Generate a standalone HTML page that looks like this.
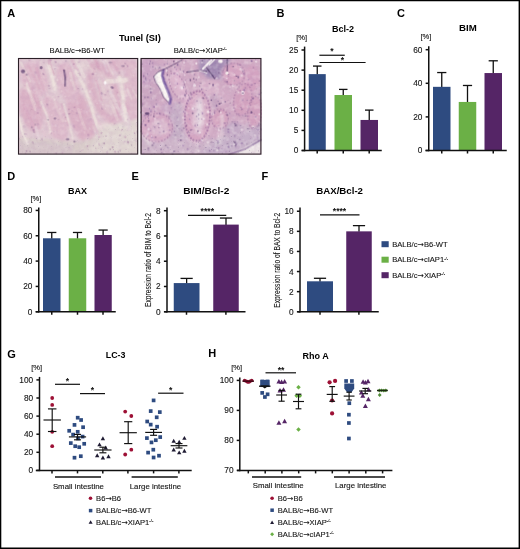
<!DOCTYPE html>
<html><head><meta charset="utf-8"><title>Figure</title>
<style>
html,body{margin:0;padding:0;background:#fff}
body{width:520px;height:549px;overflow:hidden;position:relative}
svg{display:block;position:absolute;left:0;top:0}
svg text{font-family:"Liberation Sans",sans-serif}
.ar{font-family:"DejaVu Sans","Liberation Sans",sans-serif;font-size:7.6px}
.sup{font-size:4.2px}
</style></head><body>
<svg width="520" height="549" viewBox="0 0 520 549">
<rect x="0" y="0" width="520" height="549" fill="#fff"/>
<text x="7.20" y="16.90" font-size="11" text-anchor="start" font-weight="bold" fill="#000" >A</text>
<text x="276.60" y="16.90" font-size="11" text-anchor="start" font-weight="bold" fill="#000" >B</text>
<text x="397.00" y="16.90" font-size="11" text-anchor="start" font-weight="bold" fill="#000" >C</text>
<text x="7.20" y="179.60" font-size="11" text-anchor="start" font-weight="bold" fill="#000" >D</text>
<text x="131.60" y="179.60" font-size="11" text-anchor="start" font-weight="bold" fill="#000" >E</text>
<text x="261.60" y="179.60" font-size="11" text-anchor="start" font-weight="bold" fill="#000" >F</text>
<text x="7.20" y="357.60" font-size="11" text-anchor="start" font-weight="bold" fill="#000" >G</text>
<text x="208.30" y="357.40" font-size="11" text-anchor="start" font-weight="bold" fill="#000" >H</text>
<text x="119.00" y="40.60" font-size="9.3" font-weight="bold" fill="#000" textLength="41.80" lengthAdjust="spacingAndGlyphs">Tunel (SI)</text>
<text x="49.60" y="53.00" font-size="7.6" text-anchor="start" font-weight="normal" fill="#151515"  stroke="#151515" stroke-width="0.12">BALB/c<tspan class="ar">→</tspan>B6-WT</text>
<text x="173.70" y="53.00" font-size="7.6" text-anchor="start" font-weight="normal" fill="#151515"  stroke="#151515" stroke-width="0.12">BALB/c<tspan class="ar">→</tspan>XIAP<tspan class="sup" dy="-2.6">-/-</tspan></text>
<defs>
<filter id="b6" x="-10%" y="-10%" width="120%" height="120%"><feGaussianBlur stdDeviation="7"/></filter>
<filter id="b3" x="-10%" y="-10%" width="120%" height="120%"><feGaussianBlur stdDeviation="3"/></filter>
<filter id="nzd" x="0" y="0" width="100%" height="100%"><feTurbulence type="fractalNoise" baseFrequency="0.22" numOctaves="2" seed="7" result="t"/><feColorMatrix in="t" type="matrix" values="0 0 0 0 0.5  0 0 0 0 0.3  0 0 0 0 0.5  0 2.2 0 0 -0.95"/></filter>
<filter id="nzl" x="0" y="0" width="100%" height="100%"><feTurbulence type="fractalNoise" baseFrequency="0.2" numOctaves="2" seed="23" result="t"/><feColorMatrix in="t" type="matrix" values="0 0 0 0 1  0 0 0 0 0.97  0 0 0 0 0.95  2.4 0 0 0 -1.05"/></filter>
<filter id="nzs" x="0" y="0" width="100%" height="100%"><feTurbulence type="fractalNoise" baseFrequency="0.55" numOctaves="1" seed="3" result="t"/><feColorMatrix in="t" type="matrix" values="0 0 0 0 0.3  0 0 0 0 0.2  0 0 0 0 0.36  0 0 7 0 -4.7"/></filter>
<filter id="sl" x="0" y="0" width="100%" height="100%"><feTurbulence type="fractalNoise" baseFrequency="0.2 0.035" numOctaves="2" seed="11" result="t"/><feColorMatrix in="t" type="matrix" values="0 0 0 0 0.98  0 0 0 0 0.95  0 0 0 0 0.92  2.6 0 0 0 -1.2"/></filter>
<filter id="sd" x="0" y="0" width="100%" height="100%"><feTurbulence type="fractalNoise" baseFrequency="0.22 0.04" numOctaves="2" seed="5" result="t"/><feColorMatrix in="t" type="matrix" values="0 0 0 0 0.82  0 0 0 0 0.5  0 0 0 0 0.7  0 2.6 0 0 -1.15"/></filter>
<clipPath id="c1"><rect x="18" y="58" width="120" height="96.3"/></clipPath>
<clipPath id="c2"><rect x="140.6" y="58" width="120.7" height="96.3"/></clipPath>
<clipPath id="cb1"><polygon points="18,134 50,138 80,140 100,132 138,120 138,155 18,155"/></clipPath>
<clipPath id="cb2"><polygon points="140,150 180,140 215,138 261,120 261,155 140,155"/></clipPath>
</defs>
<g clip-path="url(#c1)">
<rect x="18" y="58" width="120" height="96.3" fill="#e2c8d3"/>
<g transform="translate(18 58) scale(0.23077)">
<g filter="url(#b6)">
<ellipse cx="375" cy="150" rx="63" ry="142" transform="rotate(-19 375 150)" fill="#dbacc3" opacity="1"/>
<ellipse cx="378" cy="150" rx="36" ry="105" transform="rotate(-19 378 150)" fill="#e2c6d1" opacity="0.85"/>
<ellipse cx="500" cy="170" rx="40" ry="140" transform="rotate(-8 500 170)" fill="#dfb6ca" opacity="1"/>
<ellipse cx="270" cy="250" rx="49" ry="130" transform="rotate(-18 270 250)" fill="#dbacc3" opacity="1"/>
<ellipse cx="160" cy="265" rx="45" ry="105" transform="rotate(-20 160 265)" fill="#dfb6ca" opacity="1"/>
<ellipse cx="55" cy="220" rx="47" ry="102" transform="rotate(-14 55 220)" fill="#dbacc3" opacity="1"/>
<ellipse cx="70" cy="90" rx="56" ry="80" transform="rotate(-20 70 90)" fill="#dfb6ca" opacity="1"/>
<ellipse cx="215" cy="105" rx="45" ry="90" transform="rotate(-14 215 105)" fill="#dfb6ca" opacity="1"/>
<ellipse cx="450" cy="30" rx="70" ry="28" transform="rotate(0 450 30)" fill="#dfb6ca" opacity="1"/>
<polygon points="0,345 120,350 250,365 330,345 360,300 440,290 520,265 520,416 0,416" fill="#dacdca" opacity="1"/>
<polygon points="340,330 380,290 450,285 520,262 520,416 300,416" fill="#e3d9d4" opacity="1"/>
<polygon points="0,360 120,365 240,380 240,416 0,416" fill="#d6c5c9" opacity="1"/>
<polyline points="135,35 148,80 160,135" fill="none" stroke="#efe4de" stroke-width="15" stroke-linecap="round" stroke-linejoin="round" opacity="0.9"/>
<polyline points="250,55 285,120 318,210 345,300" fill="none" stroke="#efe4de" stroke-width="13" stroke-linecap="round" stroke-linejoin="round" opacity="0.75"/>
<polyline points="440,85 455,170 468,270" fill="none" stroke="#efe4de" stroke-width="16" stroke-linecap="round" stroke-linejoin="round" opacity="0.75"/>
<polyline points="380,100 470,95" fill="none" stroke="#efe4de" stroke-width="24" stroke-linecap="round" stroke-linejoin="round" opacity="0.6"/>
<polyline points="5,255 18,320 42,372" fill="none" stroke="#efe4de" stroke-width="9" stroke-linecap="round" stroke-linejoin="round" opacity="1"/>
<polyline points="275,25 330,55" fill="none" stroke="#efe4de" stroke-width="20" stroke-linecap="round" stroke-linejoin="round" opacity="0.5"/>
<polyline points="100,190 125,250 140,320" fill="none" stroke="#efe4de" stroke-width="10" stroke-linecap="round" stroke-linejoin="round" opacity="0.6"/>
<polyline points="200,200 225,300 238,350" fill="none" stroke="#efe4de" stroke-width="9" stroke-linecap="round" stroke-linejoin="round" opacity="0.55"/>
<polyline points="20,120 60,150" fill="none" stroke="#efe4de" stroke-width="12" stroke-linecap="round" stroke-linejoin="round" opacity="0.5"/>
<polyline points="335,300 400,290" fill="none" stroke="#efe4de" stroke-width="20" stroke-linecap="round" stroke-linejoin="round" opacity="0.7"/>
</g>
<rect x="0" y="0" width="520" height="416" fill="#d6c8cc" opacity="0.22"/>
<g filter="url(#b3)">
<polyline points="92.2,16.1 100.9,50.5 112.1,85.0" fill="none" stroke="#ecdfdf" stroke-width="7.2" stroke-linecap="round" stroke-linejoin="round" opacity="0.36"/>
<polyline points="514.4,0.6 530.4,39.2 541.0,77.8" fill="none" stroke="#e9d8df" stroke-width="13.6" stroke-linecap="round" stroke-linejoin="round" opacity="0.29"/>
<polyline points="-25.6,204.2 -15.0,233.2 -7.0,262.1" fill="none" stroke="#e9d8df" stroke-width="9.5" stroke-linecap="round" stroke-linejoin="round" opacity="0.38"/>
<polyline points="438.6,288.0 447.4,309.7 456.6,331.4" fill="none" stroke="#eee4de" stroke-width="11.0" stroke-linecap="round" stroke-linejoin="round" opacity="0.27"/>
<polyline points="434.9,157.9 447.4,191.7 462.7,225.5" fill="none" stroke="#eee4de" stroke-width="10.6" stroke-linecap="round" stroke-linejoin="round" opacity="0.28"/>
<polyline points="406.5,8.4 425.6,42.4 442.7,76.4" fill="none" stroke="#cf98b4" stroke-width="12.6" stroke-linecap="round" stroke-linejoin="round" opacity="0.26"/>
<polyline points="62.9,132.6 77.2,172.7 96.7,212.8" fill="none" stroke="#d49cb8" stroke-width="14.2" stroke-linecap="round" stroke-linejoin="round" opacity="0.25"/>
<polyline points="88.2,247.8 98.6,290.4 114.7,333.0" fill="none" stroke="#e4c4d2" stroke-width="14.5" stroke-linecap="round" stroke-linejoin="round" opacity="0.3"/>
<polyline points="160.0,8.9 180.9,64.6 196.2,120.3" fill="none" stroke="#e4c4d2" stroke-width="7.1" stroke-linecap="round" stroke-linejoin="round" opacity="0.3"/>
<polyline points="394.1,123.6 416.1,176.9 438.7,230.2" fill="none" stroke="#ecdfdf" stroke-width="9.3" stroke-linecap="round" stroke-linejoin="round" opacity="0.27"/>
<polyline points="36.4,113.6 54.3,169.0 73.8,224.4" fill="none" stroke="#efe6e0" stroke-width="9.9" stroke-linecap="round" stroke-linejoin="round" opacity="0.34"/>
<polyline points="76.1,300.8 83.0,324.5 88.7,348.2" fill="none" stroke="#e9d8df" stroke-width="11.8" stroke-linecap="round" stroke-linejoin="round" opacity="0.47"/>
<polyline points="265.9,183.9 277.0,215.7 282.3,247.6" fill="none" stroke="#d8a6c0" stroke-width="13.2" stroke-linecap="round" stroke-linejoin="round" opacity="0.33"/>
<polyline points="227.5,64.7 236.2,99.9 245.8,135.2" fill="none" stroke="#eee4de" stroke-width="10.5" stroke-linecap="round" stroke-linejoin="round" opacity="0.39"/>
<polyline points="80.8,45.7 85.8,66.2 93.8,86.6" fill="none" stroke="#d49cb8" stroke-width="13.2" stroke-linecap="round" stroke-linejoin="round" opacity="0.33"/>
<polyline points="361.7,-5.8 375.7,27.5 386.0,60.9" fill="none" stroke="#e9d8df" stroke-width="9.7" stroke-linecap="round" stroke-linejoin="round" opacity="0.39"/>
<polyline points="319.8,265.2 336.0,303.0 352.2,340.8" fill="none" stroke="#d8a6c0" stroke-width="9.7" stroke-linecap="round" stroke-linejoin="round" opacity="0.32"/>
<polyline points="440.8,78.0 456.6,121.2 466.7,164.5" fill="none" stroke="#eee4de" stroke-width="14.2" stroke-linecap="round" stroke-linejoin="round" opacity="0.25"/>
<polyline points="333.6,1.2 342.3,25.8 354.4,50.3" fill="none" stroke="#cf98b4" stroke-width="13.0" stroke-linecap="round" stroke-linejoin="round" opacity="0.46"/>
<polyline points="-38.2,302.8 -29.8,321.2 -20.0,339.6" fill="none" stroke="#ecdfdf" stroke-width="10.2" stroke-linecap="round" stroke-linejoin="round" opacity="0.42"/>
<polyline points="84.5,-1.3 102.5,54.4 117.0,110.1" fill="none" stroke="#e4c4d2" stroke-width="13.5" stroke-linecap="round" stroke-linejoin="round" opacity="0.37"/>
<polyline points="472.5,133.9 482.5,155.1 491.2,176.3" fill="none" stroke="#ecdfdf" stroke-width="10.9" stroke-linecap="round" stroke-linejoin="round" opacity="0.44"/>
<polyline points="37.7,106.9 53.6,154.1 74.6,201.4" fill="none" stroke="#efe6e0" stroke-width="9.4" stroke-linecap="round" stroke-linejoin="round" opacity="0.31"/>
<polyline points="497.5,138.8 513.4,163.8 523.7,188.8" fill="none" stroke="#eee4de" stroke-width="8.9" stroke-linecap="round" stroke-linejoin="round" opacity="0.35"/>
<polyline points="13.3,20.1 32.9,60.2 53.1,100.4" fill="none" stroke="#eee4de" stroke-width="10.3" stroke-linecap="round" stroke-linejoin="round" opacity="0.4"/>
<polyline points="228.1,21.4 241.9,61.3 255.9,101.3" fill="none" stroke="#e9d8df" stroke-width="8.4" stroke-linecap="round" stroke-linejoin="round" opacity="0.26"/>
<polyline points="149.6,169.7 170.1,221.0 195.2,272.3" fill="none" stroke="#efe6e0" stroke-width="12.2" stroke-linecap="round" stroke-linejoin="round" opacity="0.25"/>
<polyline points="400.3,190.3 416.8,228.6 430.1,266.9" fill="none" stroke="#eee4de" stroke-width="13.8" stroke-linecap="round" stroke-linejoin="round" opacity="0.31"/>
<polyline points="512.1,199.3 531.8,242.8 548.1,286.3" fill="none" stroke="#e4c4d2" stroke-width="11.4" stroke-linecap="round" stroke-linejoin="round" opacity="0.46"/>
<polyline points="305.8,117.1 315.1,144.9 328.7,172.7" fill="none" stroke="#e4c4d2" stroke-width="8.1" stroke-linecap="round" stroke-linejoin="round" opacity="0.24"/>
<polyline points="413.1,42.2 429.0,95.1 450.0,148.1" fill="none" stroke="#e4c4d2" stroke-width="12.4" stroke-linecap="round" stroke-linejoin="round" opacity="0.45"/>
<polyline points="382.5,11.0 397.2,42.1 412.0,73.1" fill="none" stroke="#ecdfdf" stroke-width="8.3" stroke-linecap="round" stroke-linejoin="round" opacity="0.37"/>
<polyline points="25.4,208.0 47.2,250.9 64.3,293.7" fill="none" stroke="#d8a6c0" stroke-width="13.8" stroke-linecap="round" stroke-linejoin="round" opacity="0.4"/>
<polyline points="93.0,151.4 102.1,178.7 111.9,205.9" fill="none" stroke="#e4c4d2" stroke-width="11.3" stroke-linecap="round" stroke-linejoin="round" opacity="0.36"/>
<polyline points="409.6,157.2 426.2,213.0 446.7,268.8" fill="none" stroke="#cf98b4" stroke-width="10.3" stroke-linecap="round" stroke-linejoin="round" opacity="0.22"/>
<polyline points="262.5,222.7 274.5,264.8 291.7,306.9" fill="none" stroke="#eee4de" stroke-width="12.0" stroke-linecap="round" stroke-linejoin="round" opacity="0.26"/>
<polyline points="134.9,12.0 141.7,40.9 152.7,69.9" fill="none" stroke="#cf98b4" stroke-width="14.1" stroke-linecap="round" stroke-linejoin="round" opacity="0.42"/>
<polyline points="93.5,84.7 111.2,140.3 126.0,195.9" fill="none" stroke="#d8a6c0" stroke-width="7.1" stroke-linecap="round" stroke-linejoin="round" opacity="0.28"/>
<polyline points="452.1,205.2 472.0,246.1 486.5,287.0" fill="none" stroke="#e9d8df" stroke-width="12.9" stroke-linecap="round" stroke-linejoin="round" opacity="0.39"/>
<polyline points="451.9,231.8 471.1,270.6 486.1,309.4" fill="none" stroke="#e9d8df" stroke-width="11.0" stroke-linecap="round" stroke-linejoin="round" opacity="0.26"/>
<polyline points="231.1,3.7 241.8,27.7 254.8,51.7" fill="none" stroke="#d8a6c0" stroke-width="11.1" stroke-linecap="round" stroke-linejoin="round" opacity="0.36"/>
<polyline points="184.3,39.6 197.6,59.5 205.3,79.4" fill="none" stroke="#d8a6c0" stroke-width="14.0" stroke-linecap="round" stroke-linejoin="round" opacity="0.22"/>
<polyline points="45.4,34.8 71.1,83.5 91.9,132.2" fill="none" stroke="#d49cb8" stroke-width="8.9" stroke-linecap="round" stroke-linejoin="round" opacity="0.22"/>
<polyline points="447.0,219.2 460.0,264.6 477.7,310.0" fill="none" stroke="#e9d8df" stroke-width="13.7" stroke-linecap="round" stroke-linejoin="round" opacity="0.37"/>
<polyline points="462.4,190.0 471.3,209.8 479.1,229.6" fill="none" stroke="#d8a6c0" stroke-width="11.6" stroke-linecap="round" stroke-linejoin="round" opacity="0.43"/>
<polyline points="399.2,147.1 424.3,195.4 444.8,243.6" fill="none" stroke="#ecdfdf" stroke-width="14.1" stroke-linecap="round" stroke-linejoin="round" opacity="0.45"/>
<polyline points="328.7,224.6 342.0,265.7 360.9,306.8" fill="none" stroke="#e4c4d2" stroke-width="14.4" stroke-linecap="round" stroke-linejoin="round" opacity="0.27"/>
<polyline points="338.5,97.7 352.6,140.1 362.7,182.5" fill="none" stroke="#d8a6c0" stroke-width="7.9" stroke-linecap="round" stroke-linejoin="round" opacity="0.47"/>
<polyline points="245.2,-19.7 263.0,29.9 286.7,79.5" fill="none" stroke="#efe6e0" stroke-width="14.1" stroke-linecap="round" stroke-linejoin="round" opacity="0.47"/>
<polyline points="350.7,54.6 362.4,81.9 375.4,109.2" fill="none" stroke="#e4c4d2" stroke-width="13.5" stroke-linecap="round" stroke-linejoin="round" opacity="0.3"/>
<polyline points="298.7,-8.1 313.9,24.2 332.6,56.6" fill="none" stroke="#d8a6c0" stroke-width="11.5" stroke-linecap="round" stroke-linejoin="round" opacity="0.29"/>
<polyline points="353.9,92.6 365.5,119.4 374.1,146.1" fill="none" stroke="#eee4de" stroke-width="14.5" stroke-linecap="round" stroke-linejoin="round" opacity="0.29"/>
<polyline points="188.0,199.6 202.2,250.5 222.0,301.4" fill="none" stroke="#d49cb8" stroke-width="9.0" stroke-linecap="round" stroke-linejoin="round" opacity="0.35"/>
<polyline points="107.6,80.5 121.1,134.9 138.5,189.4" fill="none" stroke="#e4c4d2" stroke-width="7.7" stroke-linecap="round" stroke-linejoin="round" opacity="0.48"/>
<ellipse cx="85.8" cy="286.9" rx="3.7" ry="5.8" transform="rotate(-17 85.8 286.9)" fill="#a878a4" opacity="0.39"/>
<ellipse cx="500.9" cy="76.4" rx="3.4" ry="3.7" transform="rotate(-17 500.9 76.4)" fill="#f1e6e4" opacity="0.43"/>
<ellipse cx="36.0" cy="330.2" rx="2.7" ry="3.7" transform="rotate(-17 36.0 330.2)" fill="#a878a4" opacity="0.38"/>
<ellipse cx="517.6" cy="320.6" rx="3.1" ry="3.9" transform="rotate(-17 517.6 320.6)" fill="#8a6090" opacity="0.46"/>
<ellipse cx="337.4" cy="390.2" rx="2.3" ry="2.0" transform="rotate(-17 337.4 390.2)" fill="#9a6c98" opacity="0.53"/>
<ellipse cx="235.6" cy="229.6" rx="3.0" ry="4.0" transform="rotate(-17 235.6 229.6)" fill="#a878a4" opacity="0.39"/>
<ellipse cx="426.5" cy="31.0" rx="2.7" ry="2.4" transform="rotate(-17 426.5 31.0)" fill="#f1e6e4" opacity="0.39"/>
<ellipse cx="430.0" cy="83.6" rx="4.3" ry="4.5" transform="rotate(-17 430.0 83.6)" fill="#eedfe2" opacity="0.54"/>
<ellipse cx="260.7" cy="132.3" rx="3.3" ry="3.1" transform="rotate(-17 260.7 132.3)" fill="#9a6c98" opacity="0.46"/>
<ellipse cx="510.8" cy="1.2" rx="2.4" ry="3.0" transform="rotate(-17 510.8 1.2)" fill="#f1e6e4" opacity="0.35"/>
<ellipse cx="509.6" cy="46.9" rx="3.7" ry="4.0" transform="rotate(-17 509.6 46.9)" fill="#eedfe2" opacity="0.43"/>
<ellipse cx="159.4" cy="43.0" rx="2.4" ry="2.6" transform="rotate(-17 159.4 43.0)" fill="#eedfe2" opacity="0.46"/>
<ellipse cx="351.5" cy="373.9" rx="4.4" ry="6.8" transform="rotate(-17 351.5 373.9)" fill="#b488ac" opacity="0.3"/>
<ellipse cx="385.8" cy="5.9" rx="3.0" ry="4.6" transform="rotate(-17 385.8 5.9)" fill="#f1e6e4" opacity="0.32"/>
<ellipse cx="292.1" cy="182.7" rx="3.1" ry="4.6" transform="rotate(-17 292.1 182.7)" fill="#f1e6e4" opacity="0.27"/>
<ellipse cx="134.1" cy="120.6" rx="3.2" ry="4.7" transform="rotate(-17 134.1 120.6)" fill="#9a6c98" opacity="0.44"/>
<ellipse cx="76.0" cy="62.9" rx="3.9" ry="6.1" transform="rotate(-17 76.0 62.9)" fill="#a878a4" opacity="0.41"/>
<ellipse cx="378.9" cy="11.8" rx="2.7" ry="4.0" transform="rotate(-17 378.9 11.8)" fill="#f1e6e4" opacity="0.43"/>
<ellipse cx="221.6" cy="241.8" rx="4.2" ry="3.8" transform="rotate(-17 221.6 241.8)" fill="#8a6090" opacity="0.47"/>
<ellipse cx="198.8" cy="52.4" rx="3.8" ry="5.1" transform="rotate(-17 198.8 52.4)" fill="#8a6090" opacity="0.51"/>
<ellipse cx="303.9" cy="107.0" rx="3.1" ry="2.8" transform="rotate(-17 303.9 107.0)" fill="#f1e6e4" opacity="0.28"/>
<ellipse cx="48.8" cy="10.5" rx="3.2" ry="4.3" transform="rotate(-17 48.8 10.5)" fill="#9a6c98" opacity="0.29"/>
<ellipse cx="280.1" cy="134.9" rx="3.3" ry="3.2" transform="rotate(-17 280.1 134.9)" fill="#a878a4" opacity="0.51"/>
<ellipse cx="104.8" cy="309.6" rx="3.9" ry="5.6" transform="rotate(-17 104.8 309.6)" fill="#f1e6e4" opacity="0.25"/>
<ellipse cx="241.2" cy="26.4" rx="4.0" ry="4.0" transform="rotate(-17 241.2 26.4)" fill="#a878a4" opacity="0.46"/>
<ellipse cx="163.1" cy="17.4" rx="3.1" ry="4.5" transform="rotate(-17 163.1 17.4)" fill="#8a6090" opacity="0.49"/>
<ellipse cx="254.8" cy="238.4" rx="3.5" ry="5.4" transform="rotate(-17 254.8 238.4)" fill="#8a6090" opacity="0.34"/>
<ellipse cx="363.7" cy="218.7" rx="3.5" ry="5.5" transform="rotate(-17 363.7 218.7)" fill="#8a6090" opacity="0.36"/>
<ellipse cx="165.4" cy="413.2" rx="2.4" ry="3.2" transform="rotate(-17 165.4 413.2)" fill="#9a6c98" opacity="0.44"/>
<ellipse cx="420.0" cy="406.6" rx="3.4" ry="4.5" transform="rotate(-17 420.0 406.6)" fill="#9a6c98" opacity="0.46"/>
<ellipse cx="244.9" cy="213.4" rx="4.2" ry="3.5" transform="rotate(-17 244.9 213.4)" fill="#9a6c98" opacity="0.38"/>
<ellipse cx="128.5" cy="292.9" rx="4.1" ry="5.9" transform="rotate(-17 128.5 292.9)" fill="#eedfe2" opacity="0.37"/>
<ellipse cx="170.3" cy="94.8" rx="4.3" ry="5.1" transform="rotate(-17 170.3 94.8)" fill="#f1e6e4" opacity="0.4"/>
<ellipse cx="372.9" cy="370.4" rx="4.0" ry="4.0" transform="rotate(-17 372.9 370.4)" fill="#8a6090" opacity="0.53"/>
<ellipse cx="200.7" cy="255.7" rx="4.1" ry="3.8" transform="rotate(-17 200.7 255.7)" fill="#f1e6e4" opacity="0.31"/>
<ellipse cx="455.3" cy="298.0" rx="2.4" ry="3.1" transform="rotate(-17 455.3 298.0)" fill="#8a6090" opacity="0.36"/>
<ellipse cx="386.3" cy="408.9" rx="4.5" ry="6.1" transform="rotate(-17 386.3 408.9)" fill="#a878a4" opacity="0.31"/>
<ellipse cx="174.4" cy="266.9" rx="3.8" ry="4.0" transform="rotate(-17 174.4 266.9)" fill="#9a6c98" opacity="0.33"/>
<ellipse cx="439.6" cy="63.8" rx="3.8" ry="5.2" transform="rotate(-17 439.6 63.8)" fill="#8a6090" opacity="0.3"/>
<ellipse cx="204.2" cy="167.1" rx="3.3" ry="4.3" transform="rotate(-17 204.2 167.1)" fill="#f1e6e4" opacity="0.44"/>
<ellipse cx="51.5" cy="405.7" rx="2.7" ry="3.9" transform="rotate(-17 51.5 405.7)" fill="#8a6090" opacity="0.53"/>
<ellipse cx="366.4" cy="7.9" rx="3.4" ry="4.6" transform="rotate(-17 366.4 7.9)" fill="#b488ac" opacity="0.32"/>
<ellipse cx="4.0" cy="226.5" rx="2.4" ry="2.7" transform="rotate(-17 4.0 226.5)" fill="#b488ac" opacity="0.25"/>
<ellipse cx="86.4" cy="237.4" rx="4.3" ry="4.5" transform="rotate(-17 86.4 237.4)" fill="#9a6c98" opacity="0.38"/>
<ellipse cx="458.9" cy="101.6" rx="3.5" ry="5.3" transform="rotate(-17 458.9 101.6)" fill="#eedfe2" opacity="0.26"/>
<ellipse cx="302.7" cy="33.5" rx="4.3" ry="3.9" transform="rotate(-17 302.7 33.5)" fill="#f1e6e4" opacity="0.4"/>
<ellipse cx="273.8" cy="222.8" rx="3.3" ry="3.1" transform="rotate(-17 273.8 222.8)" fill="#eedfe2" opacity="0.3"/>
<ellipse cx="149.7" cy="266.2" rx="2.2" ry="2.1" transform="rotate(-17 149.7 266.2)" fill="#f1e6e4" opacity="0.28"/>
<ellipse cx="430.7" cy="149.8" rx="3.0" ry="3.1" transform="rotate(-17 430.7 149.8)" fill="#b488ac" opacity="0.49"/>
<ellipse cx="207.7" cy="13.5" rx="2.7" ry="3.1" transform="rotate(-17 207.7 13.5)" fill="#8a6090" opacity="0.46"/>
<ellipse cx="378.5" cy="218.2" rx="2.4" ry="2.9" transform="rotate(-17 378.5 218.2)" fill="#f1e6e4" opacity="0.47"/>
<ellipse cx="315.5" cy="263.3" rx="3.7" ry="4.4" transform="rotate(-17 315.5 263.3)" fill="#8a6090" opacity="0.3"/>
<ellipse cx="442.5" cy="335.6" rx="4.3" ry="4.2" transform="rotate(-17 442.5 335.6)" fill="#9a6c98" opacity="0.48"/>
<ellipse cx="469.4" cy="221.8" rx="4.3" ry="4.2" transform="rotate(-17 469.4 221.8)" fill="#eedfe2" opacity="0.39"/>
<ellipse cx="362.3" cy="152.7" rx="4.3" ry="5.5" transform="rotate(-17 362.3 152.7)" fill="#8a6090" opacity="0.48"/>
<ellipse cx="336.4" cy="67.2" rx="4.3" ry="4.2" transform="rotate(-17 336.4 67.2)" fill="#eedfe2" opacity="0.55"/>
<ellipse cx="288.5" cy="322.6" rx="3.9" ry="6.0" transform="rotate(-17 288.5 322.6)" fill="#eedfe2" opacity="0.32"/>
<ellipse cx="311.7" cy="146.4" rx="3.7" ry="6.0" transform="rotate(-17 311.7 146.4)" fill="#f1e6e4" opacity="0.52"/>
<ellipse cx="496.4" cy="314.2" rx="4.5" ry="4.3" transform="rotate(-17 496.4 314.2)" fill="#f1e6e4" opacity="0.41"/>
<ellipse cx="192.6" cy="412.4" rx="2.9" ry="2.9" transform="rotate(-17 192.6 412.4)" fill="#a878a4" opacity="0.38"/>
<ellipse cx="333.3" cy="320.7" rx="3.9" ry="3.7" transform="rotate(-17 333.3 320.7)" fill="#eedfe2" opacity="0.5"/>
<ellipse cx="115.6" cy="198.5" rx="2.3" ry="1.9" transform="rotate(-17 115.6 198.5)" fill="#f1e6e4" opacity="0.5"/>
<ellipse cx="304.9" cy="333.9" rx="3.9" ry="6.2" transform="rotate(-17 304.9 333.9)" fill="#a878a4" opacity="0.36"/>
<ellipse cx="204.7" cy="1.6" rx="3.7" ry="3.6" transform="rotate(-17 204.7 1.6)" fill="#eedfe2" opacity="0.32"/>
<ellipse cx="381.8" cy="337.9" rx="3.3" ry="2.7" transform="rotate(-17 381.8 337.9)" fill="#9a6c98" opacity="0.52"/>
<ellipse cx="68.8" cy="138.9" rx="3.0" ry="3.9" transform="rotate(-17 68.8 138.9)" fill="#eedfe2" opacity="0.46"/>
<ellipse cx="449.9" cy="312.5" rx="3.1" ry="4.4" transform="rotate(-17 449.9 312.5)" fill="#b488ac" opacity="0.53"/>
<ellipse cx="103.4" cy="352.6" rx="4.2" ry="5.9" transform="rotate(-17 103.4 352.6)" fill="#9a6c98" opacity="0.32"/>
<ellipse cx="67.5" cy="312.7" rx="4.4" ry="5.7" transform="rotate(-17 67.5 312.7)" fill="#8a6090" opacity="0.4"/>
<ellipse cx="69.6" cy="320.8" rx="3.3" ry="5.1" transform="rotate(-17 69.6 320.8)" fill="#8a6090" opacity="0.41"/>
<ellipse cx="4.8" cy="350.6" rx="2.9" ry="3.9" transform="rotate(-17 4.8 350.6)" fill="#8a6090" opacity="0.37"/>
<ellipse cx="64.1" cy="366.3" rx="3.7" ry="5.9" transform="rotate(-17 64.1 366.3)" fill="#9a6c98" opacity="0.32"/>
<ellipse cx="366.3" cy="203.0" rx="3.4" ry="4.5" transform="rotate(-17 366.3 203.0)" fill="#eedfe2" opacity="0.44"/>
<ellipse cx="190.2" cy="144.1" rx="3.9" ry="5.4" transform="rotate(-17 190.2 144.1)" fill="#eedfe2" opacity="0.43"/>
<ellipse cx="228.3" cy="96.7" rx="4.2" ry="5.9" transform="rotate(-17 228.3 96.7)" fill="#f1e6e4" opacity="0.52"/>
<ellipse cx="389.6" cy="143.5" rx="2.6" ry="2.7" transform="rotate(-17 389.6 143.5)" fill="#8a6090" opacity="0.35"/>
<ellipse cx="112.0" cy="20.0" rx="2.6" ry="3.9" transform="rotate(-17 112.0 20.0)" fill="#a878a4" opacity="0.32"/>
<ellipse cx="58.1" cy="222.3" rx="2.5" ry="2.4" transform="rotate(-17 58.1 222.3)" fill="#9a6c98" opacity="0.46"/>
<ellipse cx="280.1" cy="35.4" rx="2.8" ry="2.7" transform="rotate(-17 280.1 35.4)" fill="#f1e6e4" opacity="0.38"/>
<ellipse cx="410.1" cy="386.3" rx="3.8" ry="4.3" transform="rotate(-17 410.1 386.3)" fill="#9a6c98" opacity="0.54"/>
<ellipse cx="419.4" cy="285.8" rx="4.2" ry="3.5" transform="rotate(-17 419.4 285.8)" fill="#b488ac" opacity="0.37"/>
<ellipse cx="419.4" cy="200.6" rx="2.3" ry="3.3" transform="rotate(-17 419.4 200.6)" fill="#eedfe2" opacity="0.47"/>
<ellipse cx="275.9" cy="68.2" rx="3.0" ry="3.3" transform="rotate(-17 275.9 68.2)" fill="#eedfe2" opacity="0.49"/>
<ellipse cx="27.8" cy="119.5" rx="2.4" ry="3.4" transform="rotate(-17 27.8 119.5)" fill="#a878a4" opacity="0.29"/>
<ellipse cx="160.4" cy="46.6" rx="3.7" ry="3.1" transform="rotate(-17 160.4 46.6)" fill="#a878a4" opacity="0.47"/>
<ellipse cx="430.3" cy="213.3" rx="2.4" ry="3.0" transform="rotate(-17 430.3 213.3)" fill="#f1e6e4" opacity="0.36"/>
<ellipse cx="103.2" cy="205.7" rx="2.9" ry="4.1" transform="rotate(-17 103.2 205.7)" fill="#a878a4" opacity="0.26"/>
<ellipse cx="261.4" cy="67.7" rx="2.7" ry="2.2" transform="rotate(-17 261.4 67.7)" fill="#8a6090" opacity="0.48"/>
<ellipse cx="442.1" cy="401.0" rx="2.8" ry="3.4" transform="rotate(-17 442.1 401.0)" fill="#8a6090" opacity="0.36"/>
<ellipse cx="145.7" cy="247.2" rx="4.1" ry="3.8" transform="rotate(-17 145.7 247.2)" fill="#eedfe2" opacity="0.36"/>
<ellipse cx="469.4" cy="271.2" rx="2.9" ry="4.3" transform="rotate(-17 469.4 271.2)" fill="#f1e6e4" opacity="0.32"/>
<ellipse cx="518.3" cy="136.3" rx="3.1" ry="4.2" transform="rotate(-17 518.3 136.3)" fill="#f1e6e4" opacity="0.26"/>
<ellipse cx="300.5" cy="381.2" rx="2.7" ry="3.8" transform="rotate(-17 300.5 381.2)" fill="#a878a4" opacity="0.51"/>
<ellipse cx="464.7" cy="342.5" rx="4.5" ry="5.9" transform="rotate(-17 464.7 342.5)" fill="#b488ac" opacity="0.45"/>
<ellipse cx="110.1" cy="69.4" rx="4.3" ry="6.1" transform="rotate(-17 110.1 69.4)" fill="#8a6090" opacity="0.41"/>
<ellipse cx="25.2" cy="296.7" rx="3.9" ry="5.6" transform="rotate(-17 25.2 296.7)" fill="#9a6c98" opacity="0.26"/>
<ellipse cx="331.1" cy="46.3" rx="3.4" ry="5.1" transform="rotate(-17 331.1 46.3)" fill="#b488ac" opacity="0.34"/>
<ellipse cx="398.8" cy="395.6" rx="3.5" ry="3.7" transform="rotate(-17 398.8 395.6)" fill="#8a6090" opacity="0.46"/>
<ellipse cx="434.2" cy="407.4" rx="2.8" ry="4.2" transform="rotate(-17 434.2 407.4)" fill="#8a6090" opacity="0.33"/>
<ellipse cx="181.6" cy="220.4" rx="3.7" ry="4.8" transform="rotate(-17 181.6 220.4)" fill="#f1e6e4" opacity="0.5"/>
<ellipse cx="144.9" cy="325.9" rx="2.2" ry="3.2" transform="rotate(-17 144.9 325.9)" fill="#a878a4" opacity="0.46"/>
<ellipse cx="262.4" cy="17.6" rx="2.3" ry="3.4" transform="rotate(-17 262.4 17.6)" fill="#a878a4" opacity="0.5"/>
<ellipse cx="323.3" cy="70.3" rx="3.9" ry="4.5" transform="rotate(-17 323.3 70.3)" fill="#8a6090" opacity="0.35"/>
<ellipse cx="378.1" cy="159.8" rx="4.0" ry="4.0" transform="rotate(-17 378.1 159.8)" fill="#9a6c98" opacity="0.35"/>
<ellipse cx="158.2" cy="180.3" rx="4.2" ry="5.5" transform="rotate(-17 158.2 180.3)" fill="#f1e6e4" opacity="0.52"/>
<ellipse cx="241.3" cy="296.1" rx="4.3" ry="6.9" transform="rotate(-17 241.3 296.1)" fill="#b488ac" opacity="0.51"/>
<ellipse cx="474.0" cy="35.3" rx="3.8" ry="5.6" transform="rotate(-17 474.0 35.3)" fill="#a878a4" opacity="0.52"/>
<ellipse cx="320.5" cy="3.7" rx="4.0" ry="5.5" transform="rotate(-17 320.5 3.7)" fill="#f1e6e4" opacity="0.25"/>
<ellipse cx="461.6" cy="362.5" rx="4.5" ry="3.9" transform="rotate(-17 461.6 362.5)" fill="#b488ac" opacity="0.37"/>
<ellipse cx="511.5" cy="359.2" rx="4.0" ry="5.6" transform="rotate(-17 511.5 359.2)" fill="#b488ac" opacity="0.31"/>
<ellipse cx="155.1" cy="317.7" rx="2.7" ry="2.5" transform="rotate(-17 155.1 317.7)" fill="#a878a4" opacity="0.37"/>
<ellipse cx="163.0" cy="108.9" rx="3.0" ry="3.3" transform="rotate(-17 163.0 108.9)" fill="#f1e6e4" opacity="0.4"/>
<ellipse cx="473.9" cy="266.8" rx="4.2" ry="4.4" transform="rotate(-17 473.9 266.8)" fill="#b488ac" opacity="0.5"/>
<ellipse cx="342.2" cy="196.8" rx="4.0" ry="4.2" transform="rotate(-17 342.2 196.8)" fill="#eedfe2" opacity="0.43"/>
<ellipse cx="251.4" cy="174.8" rx="2.7" ry="2.6" transform="rotate(-17 251.4 174.8)" fill="#eedfe2" opacity="0.3"/>
<ellipse cx="281.2" cy="399.2" rx="2.6" ry="2.6" transform="rotate(-17 281.2 399.2)" fill="#a878a4" opacity="0.48"/>
<ellipse cx="220.2" cy="222.6" rx="2.8" ry="4.1" transform="rotate(-17 220.2 222.6)" fill="#9a6c98" opacity="0.42"/>
<ellipse cx="32.5" cy="413.3" rx="2.6" ry="3.1" transform="rotate(-17 32.5 413.3)" fill="#9a6c98" opacity="0.42"/>
<ellipse cx="504.5" cy="325.1" rx="2.7" ry="4.4" transform="rotate(-17 504.5 325.1)" fill="#b488ac" opacity="0.5"/>
<ellipse cx="206.3" cy="257.0" rx="2.6" ry="4.1" transform="rotate(-17 206.3 257.0)" fill="#8a6090" opacity="0.38"/>
<ellipse cx="463.7" cy="273.3" rx="2.8" ry="3.3" transform="rotate(-17 463.7 273.3)" fill="#eedfe2" opacity="0.43"/>
<ellipse cx="464.7" cy="24.8" rx="3.0" ry="3.7" transform="rotate(-17 464.7 24.8)" fill="#8a6090" opacity="0.4"/>
<ellipse cx="137.1" cy="66.8" rx="4.3" ry="4.5" transform="rotate(-17 137.1 66.8)" fill="#f1e6e4" opacity="0.49"/>
<ellipse cx="117.8" cy="320.7" rx="2.6" ry="2.1" transform="rotate(-17 117.8 320.7)" fill="#f1e6e4" opacity="0.27"/>
<ellipse cx="350.1" cy="343.7" rx="3.5" ry="3.3" transform="rotate(-17 350.1 343.7)" fill="#a878a4" opacity="0.37"/>
<ellipse cx="426.8" cy="192.9" rx="2.3" ry="3.6" transform="rotate(-17 426.8 192.9)" fill="#a878a4" opacity="0.36"/>
<ellipse cx="325.5" cy="68.3" rx="4.0" ry="5.4" transform="rotate(-17 325.5 68.3)" fill="#9a6c98" opacity="0.31"/>
<ellipse cx="267.3" cy="74.7" rx="2.5" ry="3.9" transform="rotate(-17 267.3 74.7)" fill="#9a6c98" opacity="0.49"/>
<ellipse cx="175.3" cy="166.9" rx="3.9" ry="3.3" transform="rotate(-17 175.3 166.9)" fill="#b488ac" opacity="0.48"/>
<ellipse cx="475.3" cy="239.6" rx="2.5" ry="2.7" transform="rotate(-17 475.3 239.6)" fill="#f1e6e4" opacity="0.28"/>
<ellipse cx="207.2" cy="273.0" rx="4.1" ry="4.6" transform="rotate(-17 207.2 273.0)" fill="#f1e6e4" opacity="0.44"/>
<ellipse cx="28.1" cy="330.3" rx="3.8" ry="3.8" transform="rotate(-17 28.1 330.3)" fill="#8a6090" opacity="0.33"/>
<ellipse cx="298.6" cy="232.7" rx="2.7" ry="3.0" transform="rotate(-17 298.6 232.7)" fill="#eedfe2" opacity="0.35"/>
<ellipse cx="491.8" cy="376.3" rx="2.6" ry="3.9" transform="rotate(-17 491.8 376.3)" fill="#8a6090" opacity="0.34"/>
<ellipse cx="428.6" cy="284.7" rx="2.3" ry="1.9" transform="rotate(-17 428.6 284.7)" fill="#eedfe2" opacity="0.29"/>
<ellipse cx="259.0" cy="272.0" rx="2.9" ry="3.1" transform="rotate(-17 259.0 272.0)" fill="#eedfe2" opacity="0.32"/>
<ellipse cx="135.0" cy="325.5" rx="2.5" ry="2.4" transform="rotate(-17 135.0 325.5)" fill="#f1e6e4" opacity="0.44"/>
<ellipse cx="275.5" cy="402.0" rx="3.4" ry="3.0" transform="rotate(-17 275.5 402.0)" fill="#b488ac" opacity="0.4"/>
<ellipse cx="468.2" cy="36.2" rx="3.6" ry="3.5" transform="rotate(-17 468.2 36.2)" fill="#eedfe2" opacity="0.49"/>
<ellipse cx="118.8" cy="340.2" rx="2.2" ry="1.9" transform="rotate(-17 118.8 340.2)" fill="#a878a4" opacity="0.43"/>
<ellipse cx="310.9" cy="306.0" rx="3.5" ry="5.2" transform="rotate(-17 310.9 306.0)" fill="#eedfe2" opacity="0.5"/>
<ellipse cx="476.3" cy="364.9" rx="4.0" ry="5.3" transform="rotate(-17 476.3 364.9)" fill="#9a6c98" opacity="0.5"/>
<ellipse cx="127.1" cy="201.7" rx="3.1" ry="4.9" transform="rotate(-17 127.1 201.7)" fill="#8a6090" opacity="0.47"/>
<ellipse cx="141.7" cy="8.1" rx="4.3" ry="5.3" transform="rotate(-17 141.7 8.1)" fill="#b488ac" opacity="0.43"/>
<ellipse cx="163.8" cy="293.6" rx="3.8" ry="5.6" transform="rotate(-17 163.8 293.6)" fill="#eedfe2" opacity="0.46"/>
<ellipse cx="136.2" cy="132.1" rx="2.6" ry="3.3" transform="rotate(-17 136.2 132.1)" fill="#a878a4" opacity="0.5"/>
<ellipse cx="266.0" cy="67.2" rx="3.6" ry="5.7" transform="rotate(-17 266.0 67.2)" fill="#9a6c98" opacity="0.33"/>
<ellipse cx="360.9" cy="325.2" rx="4.0" ry="4.8" transform="rotate(-17 360.9 325.2)" fill="#b488ac" opacity="0.52"/>
<ellipse cx="36.7" cy="403.2" rx="3.9" ry="3.9" transform="rotate(-17 36.7 403.2)" fill="#8a6090" opacity="0.45"/>
<ellipse cx="112.9" cy="65.3" rx="3.3" ry="5.1" transform="rotate(-17 112.9 65.3)" fill="#eedfe2" opacity="0.3"/>
<polyline points="135,35 148,80 160,135" fill="none" stroke="#efe5e0" stroke-width="13" stroke-linecap="round" stroke-linejoin="round" opacity="0.7"/>
<polyline points="250,55 285,120 318,210 345,300" fill="none" stroke="#efe5e0" stroke-width="12" stroke-linecap="round" stroke-linejoin="round" opacity="0.6"/>
<polyline points="440,85 455,170 468,270" fill="none" stroke="#efe5e0" stroke-width="14" stroke-linecap="round" stroke-linejoin="round" opacity="0.6"/>
<polyline points="385,102 465,96" fill="none" stroke="#efe5e0" stroke-width="20" stroke-linecap="round" stroke-linejoin="round" opacity="0.5"/>
<polyline points="100,190 125,250 140,320" fill="none" stroke="#efe5e0" stroke-width="9" stroke-linecap="round" stroke-linejoin="round" opacity="0.5"/>
<polyline points="200,200 225,300 238,350" fill="none" stroke="#efe5e0" stroke-width="8" stroke-linecap="round" stroke-linejoin="round" opacity="0.45"/>
<polyline points="5,255 18,320 42,372" fill="none" stroke="#efe5e0" stroke-width="7" stroke-linecap="round" stroke-linejoin="round" opacity="0.8"/>
<polyline points="200,55 205,85 204,120" fill="none" stroke="#5b3e6e" stroke-width="8" stroke-linecap="round" stroke-linejoin="round" opacity="0.7"/>
<ellipse cx="22" cy="58" rx="9" ry="8" transform="rotate(0 22 58)" fill="#5b3e6e" opacity="0.8"/>
<ellipse cx="38" cy="72" rx="5" ry="4" transform="rotate(0 38 72)" fill="#5b3e6e" opacity="0.5"/>
<ellipse cx="100" cy="42" rx="6" ry="7" transform="rotate(0 100 42)" fill="#5b3e6e" opacity="0.7"/>
<ellipse cx="408" cy="128" rx="7" ry="5" transform="rotate(30 408 128)" fill="#5b3e6e" opacity="0.6"/>
<ellipse cx="160" cy="262" rx="6" ry="5" transform="rotate(0 160 262)" fill="#5b3e6e" opacity="0.5"/>
<ellipse cx="130" cy="268" rx="4" ry="4" transform="rotate(0 130 268)" fill="#5b3e6e" opacity="0.4"/>
<ellipse cx="215" cy="352" rx="8" ry="5" transform="rotate(0 215 352)" fill="#5b3e6e" opacity="0.55"/>
<ellipse cx="245" cy="362" rx="5" ry="4" transform="rotate(0 245 362)" fill="#5b3e6e" opacity="0.45"/>
<ellipse cx="60" cy="300" rx="4" ry="4" transform="rotate(0 60 300)" fill="#5b3e6e" opacity="0.4"/>
<ellipse cx="75" cy="288" rx="4" ry="3" transform="rotate(0 75 288)" fill="#5b3e6e" opacity="0.4"/>
<ellipse cx="455" cy="35" rx="8" ry="5" transform="rotate(0 455 35)" fill="#5b3e6e" opacity="0.35"/>
<ellipse cx="400" cy="20" rx="8" ry="4" transform="rotate(0 400 20)" fill="#5b3e6e" opacity="0.3"/>
<ellipse cx="378" cy="108" rx="6" ry="8" transform="rotate(0 378 108)" fill="#fff" opacity="0.8"/>
</g>
</g>
<rect x="18" y="58" width="120" height="96.3" filter="url(#nzl)" opacity="0.16"/>
<rect x="18" y="58" width="120" height="96.3" filter="url(#nzd)" opacity="0.18"/>
<rect x="18" y="58" width="120" height="96.3" filter="url(#nzs)" opacity="0.35" clip-path="url(#cb1)"/>
</g>
<rect x="18.5" y="58.5" width="119.2" height="95.6" fill="none" stroke="#2b2028" stroke-width="1.1"/>
<g clip-path="url(#c2)">
<rect x="140.6" y="58" width="120.7" height="96.3" fill="#d2a2c0"/>
<g transform="translate(140.6 58) scale(0.2321)">
<g filter="url(#b6)">
<ellipse cx="40" cy="120" rx="60" ry="110" transform="rotate(10 40 120)" fill="#cb9cbc" opacity="1"/>
<ellipse cx="160" cy="300" rx="60" ry="70" transform="rotate(0 160 300)" fill="#bfa4c0" opacity="0.9"/>
<ellipse cx="330" cy="170" rx="60" ry="40" transform="rotate(0 330 170)" fill="#d4a4c2" opacity="1"/>
<polygon points="250,0 385,0 385,50 350,92 290,88 250,50" fill="#9a7eae" opacity="1"/>
<ellipse cx="310" cy="40" rx="40" ry="38" transform="rotate(0 310 40)" fill="#8468a0" opacity="0.8"/>
<polygon points="0,330 160,350 330,345 520,250 520,416 0,416" fill="#cdb0c8" opacity="1"/>
<ellipse cx="158" cy="265" rx="34" ry="75" transform="rotate(0 158 265)" fill="#c2a6c2" opacity="0.9"/>
<ellipse cx="312" cy="185" rx="24" ry="40" transform="rotate(0 312 185)" fill="#bb96b8" opacity="0.8"/>
<ellipse cx="395" cy="305" rx="45" ry="28" transform="rotate(-10 395 305)" fill="#bd9ec0" opacity="0.9"/>
<ellipse cx="120" cy="215" rx="30" ry="25" transform="rotate(0 120 215)" fill="#c09ac0" opacity="0.7"/>
<ellipse cx="20" cy="60" rx="40" ry="60" transform="rotate(0 20 60)" fill="#c898c0" opacity="0.7"/>
<ellipse cx="245" cy="250" rx="68" ry="122" transform="rotate(2 245 250)" fill="#e4c2d4" opacity="0.8"/>
<ellipse cx="245" cy="250" rx="58" ry="112" transform="rotate(2 245 250)" fill="#d79abc" opacity="1"/>
<ellipse cx="250" cy="245" rx="28" ry="88" transform="rotate(2 250 245)" fill="#e4bfd4" opacity="1"/>
<ellipse cx="252" cy="240" rx="12" ry="64" transform="rotate(2 252 240)" fill="#f2e4ea" opacity="1"/>
<ellipse cx="342" cy="262" rx="36" ry="42" transform="rotate(0 342 262)" fill="#d696b8" opacity="1"/>
<ellipse cx="70" cy="300" rx="70" ry="62" transform="rotate(-10 70 300)" fill="#d8a0c0" opacity="1"/>
<ellipse cx="80" cy="300" rx="40" ry="36" transform="rotate(-10 80 300)" fill="#e0b8ce" opacity="1"/>
<ellipse cx="440" cy="180" rx="38" ry="70" transform="rotate(10 440 180)" fill="#d596b8" opacity="1"/>
<ellipse cx="492" cy="235" rx="30" ry="70" transform="rotate(5 492 235)" fill="#d596b8" opacity="1"/>
<ellipse cx="400" cy="70" rx="50" ry="50" transform="rotate(0 400 70)" fill="#d89abc" opacity="1"/>
<ellipse cx="480" cy="90" rx="35" ry="60" transform="rotate(0 480 90)" fill="#d496ba" opacity="1"/>
<ellipse cx="160" cy="120" rx="30" ry="60" transform="rotate(-25 160 120)" fill="#dfb0ca" opacity="1"/>
<ellipse cx="300" cy="130" rx="40" ry="30" transform="rotate(0 300 130)" fill="#dfb0ca" opacity="1"/>
<polyline points="150,60 170,120 200,180" fill="none" stroke="#e4b4d0" stroke-width="30" stroke-linecap="round" stroke-linejoin="round" opacity="1"/>
<polygon points="330,350 420,330 520,280 520,365 380,416 250,416" fill="#c2aac6" opacity="1"/>
<polygon points="395,416 520,352 520,416" fill="#faf6f2" opacity="1"/>
<polyline points="352,250 348,310 340,370" fill="none" stroke="#fbf7f4" stroke-width="9" stroke-linecap="round" stroke-linejoin="round" opacity="0.8"/>
<polyline points="0,330 25,350 40,372" fill="none" stroke="#fbf7f4" stroke-width="8" stroke-linecap="round" stroke-linejoin="round" opacity="0.9"/>
</g>
<rect x="0" y="0" width="520" height="416" fill="#d2c2d0" opacity="0.3"/>
<g filter="url(#b3)">
<polygon points="57,80 75,60 98,52 94,75 100,100 115,135 127,170 125,195 100,170 83,130 65,105" fill="#fbf7f4" opacity="1"/>
<polyline points="57,80 65,105 83,130 100,170 124,196" fill="none" stroke="#4f3566" stroke-width="4" stroke-linecap="round" stroke-linejoin="round" opacity="0.8"/>
<polyline points="98,52 94,75 102,104 116,136 130,175 126,196" fill="none" stroke="#6a4c9a" stroke-width="12" stroke-linecap="round" stroke-linejoin="round" opacity="0.8"/>
<polyline points="57,80 75,60 98,50 140,30 180,8" fill="none" stroke="#4f3566" stroke-width="4" stroke-linecap="round" stroke-linejoin="round" opacity="0.8"/>
<polyline points="199,61 244,54 284,58" fill="none" stroke="#4f3566" stroke-width="5" stroke-linecap="round" stroke-linejoin="round" opacity="0.8"/>
<polyline points="284,41 300,62 319,88" fill="none" stroke="#4f3566" stroke-width="6" stroke-linecap="round" stroke-linejoin="round" opacity="0.8"/>
<polyline points="373,1 374,30 373,56" fill="none" stroke="#4f3566" stroke-width="5" stroke-linecap="round" stroke-linejoin="round" opacity="0.75"/>
<polyline points="269,46 287,27 304,9" fill="none" stroke="#fbf7f4" stroke-width="9" stroke-linecap="round" stroke-linejoin="round" opacity="0.95"/>
<polyline points="296,29 308,17 319,6" fill="none" stroke="#fbf7f4" stroke-width="6" stroke-linecap="round" stroke-linejoin="round" opacity="0.9"/>
<polyline points="252,55 270,59 286,65" fill="none" stroke="#fbf7f4" stroke-width="4" stroke-linecap="round" stroke-linejoin="round" opacity="0.9"/>
<ellipse cx="344" cy="14" rx="10" ry="8" transform="rotate(0 344 14)" fill="#fbf7f4" opacity="1"/>
<ellipse cx="372" cy="65" rx="7" ry="7" transform="rotate(0 372 65)" fill="#fbf7f4" opacity="0.9"/>
<polyline points="380,416 450,392 520,352" fill="none" stroke="#8a6a9c" stroke-width="6" stroke-linecap="round" stroke-linejoin="round" opacity="0.8"/>
<ellipse cx="28" cy="240" rx="10" ry="6" transform="rotate(0 28 240)" fill="#4f3566" opacity="0.8"/>
<ellipse cx="410" cy="290" rx="5" ry="4" transform="rotate(0 410 290)" fill="#4f3566" opacity="0.6"/>
<ellipse cx="440" cy="150" rx="7" ry="9" transform="rotate(0 440 150)" fill="#fff" opacity="0.7"/>
<ellipse cx="232" cy="118" rx="7" ry="7" transform="rotate(0 232 118)" fill="#fff" opacity="0.6"/>
<ellipse cx="240.8" cy="155.3" rx="2.5" ry="3.1" transform="rotate(0 240.8 155.3)" fill="#6a4a82" opacity="0.49"/>
<ellipse cx="241.1" cy="251.6" rx="2.9" ry="3.6" transform="rotate(0 241.1 251.6)" fill="#6a4a82" opacity="0.64"/>
<ellipse cx="88.1" cy="393.6" rx="4.1" ry="4.1" transform="rotate(0 88.1 393.6)" fill="#7a5690" opacity="0.45"/>
<ellipse cx="57.7" cy="210.6" rx="4.0" ry="4.4" transform="rotate(0 57.7 210.6)" fill="#8a64a0" opacity="0.67"/>
<ellipse cx="412.4" cy="370.1" rx="3.7" ry="4.7" transform="rotate(0 412.4 370.1)" fill="#8a64a0" opacity="0.46"/>
<ellipse cx="420.9" cy="83.0" rx="4.0" ry="4.9" transform="rotate(0 420.9 83.0)" fill="#6a4a82" opacity="0.71"/>
<ellipse cx="439.8" cy="57.9" rx="2.7" ry="3.1" transform="rotate(0 439.8 57.9)" fill="#6a4a82" opacity="0.74"/>
<ellipse cx="2.0" cy="318.0" rx="2.6" ry="3.2" transform="rotate(0 2.0 318.0)" fill="#5a3e70" opacity="0.35"/>
<ellipse cx="43.4" cy="224.5" rx="2.2" ry="1.9" transform="rotate(0 43.4 224.5)" fill="#8a64a0" opacity="0.57"/>
<ellipse cx="103.1" cy="28.6" rx="2.6" ry="3.1" transform="rotate(0 103.1 28.6)" fill="#7a5690" opacity="0.42"/>
<ellipse cx="316.6" cy="398.7" rx="2.3" ry="2.5" transform="rotate(0 316.6 398.7)" fill="#7a5690" opacity="0.65"/>
<ellipse cx="383.2" cy="239.3" rx="2.3" ry="2.8" transform="rotate(0 383.2 239.3)" fill="#8a64a0" opacity="0.73"/>
<ellipse cx="123.1" cy="254.2" rx="2.3" ry="2.2" transform="rotate(0 123.1 254.2)" fill="#6a4a82" opacity="0.7"/>
<ellipse cx="57.2" cy="366.8" rx="2.9" ry="2.7" transform="rotate(0 57.2 366.8)" fill="#7a5690" opacity="0.74"/>
<ellipse cx="298.7" cy="7.6" rx="3.8" ry="3.7" transform="rotate(0 298.7 7.6)" fill="#8a64a0" opacity="0.39"/>
<ellipse cx="423.6" cy="127.8" rx="2.8" ry="2.9" transform="rotate(0 423.6 127.8)" fill="#6a4a82" opacity="0.36"/>
<ellipse cx="406.0" cy="335.9" rx="3.2" ry="3.7" transform="rotate(0 406.0 335.9)" fill="#7a5690" opacity="0.58"/>
<ellipse cx="34.5" cy="269.5" rx="2.4" ry="2.8" transform="rotate(0 34.5 269.5)" fill="#5a3e70" opacity="0.73"/>
<ellipse cx="291.4" cy="57.9" rx="2.8" ry="3.2" transform="rotate(0 291.4 57.9)" fill="#5a3e70" opacity="0.36"/>
<ellipse cx="488.5" cy="336.8" rx="2.7" ry="2.4" transform="rotate(0 488.5 336.8)" fill="#6a4a82" opacity="0.59"/>
<ellipse cx="6.2" cy="25.3" rx="2.6" ry="2.6" transform="rotate(0 6.2 25.3)" fill="#6a4a82" opacity="0.74"/>
<ellipse cx="184.4" cy="58.5" rx="3.3" ry="2.9" transform="rotate(0 184.4 58.5)" fill="#6a4a82" opacity="0.65"/>
<ellipse cx="153.9" cy="49.1" rx="3.0" ry="2.6" transform="rotate(0 153.9 49.1)" fill="#8a64a0" opacity="0.59"/>
<ellipse cx="417.4" cy="275.9" rx="2.7" ry="3.0" transform="rotate(0 417.4 275.9)" fill="#8a64a0" opacity="0.49"/>
<ellipse cx="480.1" cy="115.2" rx="2.5" ry="2.9" transform="rotate(0 480.1 115.2)" fill="#6a4a82" opacity="0.41"/>
<ellipse cx="410.6" cy="357.4" rx="2.6" ry="2.7" transform="rotate(0 410.6 357.4)" fill="#8a64a0" opacity="0.38"/>
<ellipse cx="285.3" cy="246.7" rx="2.7" ry="2.3" transform="rotate(0 285.3 246.7)" fill="#6a4a82" opacity="0.58"/>
<ellipse cx="304.3" cy="181.3" rx="2.8" ry="3.0" transform="rotate(0 304.3 181.3)" fill="#6a4a82" opacity="0.7"/>
<ellipse cx="298.4" cy="397.5" rx="2.3" ry="2.1" transform="rotate(0 298.4 397.5)" fill="#7a5690" opacity="0.39"/>
<ellipse cx="363.8" cy="188.7" rx="3.2" ry="3.6" transform="rotate(0 363.8 188.7)" fill="#6a4a82" opacity="0.62"/>
<ellipse cx="15.2" cy="101.4" rx="3.1" ry="3.1" transform="rotate(0 15.2 101.4)" fill="#8a64a0" opacity="0.7"/>
<ellipse cx="18.7" cy="248.3" rx="3.4" ry="3.9" transform="rotate(0 18.7 248.3)" fill="#8a64a0" opacity="0.59"/>
<ellipse cx="42.0" cy="14.2" rx="3.7" ry="3.1" transform="rotate(0 42.0 14.2)" fill="#6a4a82" opacity="0.49"/>
<ellipse cx="244.5" cy="222.8" rx="2.3" ry="2.7" transform="rotate(0 244.5 222.8)" fill="#5a3e70" opacity="0.38"/>
<ellipse cx="167.2" cy="193.0" rx="3.1" ry="2.7" transform="rotate(0 167.2 193.0)" fill="#8a64a0" opacity="0.74"/>
<ellipse cx="433.0" cy="44.2" rx="2.9" ry="2.7" transform="rotate(0 433.0 44.2)" fill="#7a5690" opacity="0.43"/>
<ellipse cx="115.0" cy="46.0" rx="2.4" ry="3.1" transform="rotate(0 115.0 46.0)" fill="#6a4a82" opacity="0.5"/>
<ellipse cx="385.3" cy="194.5" rx="3.2" ry="3.2" transform="rotate(0 385.3 194.5)" fill="#6a4a82" opacity="0.44"/>
<ellipse cx="133.3" cy="215.4" rx="2.6" ry="2.6" transform="rotate(0 133.3 215.4)" fill="#6a4a82" opacity="0.73"/>
<ellipse cx="270.1" cy="173.5" rx="4.0" ry="4.1" transform="rotate(0 270.1 173.5)" fill="#5a3e70" opacity="0.59"/>
<ellipse cx="114.8" cy="24.4" rx="2.8" ry="2.6" transform="rotate(0 114.8 24.4)" fill="#7a5690" opacity="0.74"/>
<ellipse cx="408.9" cy="375.1" rx="4.1" ry="5.0" transform="rotate(0 408.9 375.1)" fill="#5a3e70" opacity="0.74"/>
<ellipse cx="49.1" cy="132.2" rx="2.7" ry="3.0" transform="rotate(0 49.1 132.2)" fill="#8a64a0" opacity="0.58"/>
<ellipse cx="458.0" cy="371.3" rx="3.1" ry="2.6" transform="rotate(0 458.0 371.3)" fill="#5a3e70" opacity="0.53"/>
<ellipse cx="317.4" cy="236.5" rx="3.1" ry="2.8" transform="rotate(0 317.4 236.5)" fill="#8a64a0" opacity="0.37"/>
<ellipse cx="47.7" cy="132.1" rx="2.3" ry="2.0" transform="rotate(0 47.7 132.1)" fill="#5a3e70" opacity="0.61"/>
<ellipse cx="71.6" cy="260.2" rx="2.9" ry="2.9" transform="rotate(0 71.6 260.2)" fill="#8a64a0" opacity="0.43"/>
<ellipse cx="281.8" cy="139.5" rx="2.2" ry="2.4" transform="rotate(0 281.8 139.5)" fill="#8a64a0" opacity="0.44"/>
<ellipse cx="378.2" cy="317.8" rx="3.8" ry="4.0" transform="rotate(0 378.2 317.8)" fill="#8a64a0" opacity="0.64"/>
<ellipse cx="148.0" cy="221.9" rx="2.3" ry="1.9" transform="rotate(0 148.0 221.9)" fill="#5a3e70" opacity="0.37"/>
<ellipse cx="49.9" cy="342.8" rx="4.2" ry="4.7" transform="rotate(0 49.9 342.8)" fill="#8a64a0" opacity="0.51"/>
<ellipse cx="305.0" cy="361.2" rx="3.2" ry="3.1" transform="rotate(0 305.0 361.2)" fill="#5a3e70" opacity="0.43"/>
<ellipse cx="475.8" cy="236.0" rx="3.8" ry="4.5" transform="rotate(0 475.8 236.0)" fill="#7a5690" opacity="0.58"/>
<ellipse cx="4.9" cy="284.6" rx="2.2" ry="2.3" transform="rotate(0 4.9 284.6)" fill="#8a64a0" opacity="0.71"/>
<ellipse cx="392.4" cy="113.5" rx="2.5" ry="2.6" transform="rotate(0 392.4 113.5)" fill="#7a5690" opacity="0.42"/>
<ellipse cx="76.3" cy="282.3" rx="3.7" ry="3.0" transform="rotate(0 76.3 282.3)" fill="#5a3e70" opacity="0.72"/>
<ellipse cx="13.6" cy="77.5" rx="3.8" ry="4.3" transform="rotate(0 13.6 77.5)" fill="#6a4a82" opacity="0.53"/>
<ellipse cx="177.2" cy="311.1" rx="2.5" ry="2.5" transform="rotate(0 177.2 311.1)" fill="#7a5690" opacity="0.69"/>
<ellipse cx="295.7" cy="4.2" rx="3.3" ry="2.7" transform="rotate(0 295.7 4.2)" fill="#5a3e70" opacity="0.55"/>
<ellipse cx="31.7" cy="336.2" rx="3.0" ry="3.1" transform="rotate(0 31.7 336.2)" fill="#7a5690" opacity="0.57"/>
<ellipse cx="44.1" cy="147.5" rx="4.0" ry="4.7" transform="rotate(0 44.1 147.5)" fill="#7a5690" opacity="0.65"/>
<ellipse cx="6.3" cy="275.5" rx="2.9" ry="2.6" transform="rotate(0 6.3 275.5)" fill="#7a5690" opacity="0.36"/>
<ellipse cx="372.5" cy="244.0" rx="4.1" ry="4.7" transform="rotate(0 372.5 244.0)" fill="#5a3e70" opacity="0.46"/>
<ellipse cx="18.8" cy="168.8" rx="3.8" ry="3.9" transform="rotate(0 18.8 168.8)" fill="#6a4a82" opacity="0.48"/>
<ellipse cx="436.2" cy="367.3" rx="3.6" ry="4.1" transform="rotate(0 436.2 367.3)" fill="#8a64a0" opacity="0.69"/>
<ellipse cx="410.7" cy="383.7" rx="2.5" ry="2.5" transform="rotate(0 410.7 383.7)" fill="#8a64a0" opacity="0.41"/>
<ellipse cx="216.4" cy="311.3" rx="3.9" ry="4.4" transform="rotate(0 216.4 311.3)" fill="#6a4a82" opacity="0.55"/>
<ellipse cx="259.1" cy="108.6" rx="2.9" ry="3.5" transform="rotate(0 259.1 108.6)" fill="#5a3e70" opacity="0.56"/>
<ellipse cx="519.1" cy="307.1" rx="3.5" ry="3.6" transform="rotate(0 519.1 307.1)" fill="#6a4a82" opacity="0.43"/>
<ellipse cx="7.8" cy="193.3" rx="2.4" ry="2.3" transform="rotate(0 7.8 193.3)" fill="#7a5690" opacity="0.35"/>
<ellipse cx="347.7" cy="172.5" rx="2.7" ry="3.5" transform="rotate(0 347.7 172.5)" fill="#5a3e70" opacity="0.48"/>
<ellipse cx="475.8" cy="230.0" rx="2.3" ry="2.6" transform="rotate(0 475.8 230.0)" fill="#7a5690" opacity="0.39"/>
<ellipse cx="459.1" cy="182.5" rx="2.9" ry="3.4" transform="rotate(0 459.1 182.5)" fill="#6a4a82" opacity="0.39"/>
<ellipse cx="212.3" cy="177.3" rx="2.6" ry="2.4" transform="rotate(0 212.3 177.3)" fill="#7a5690" opacity="0.55"/>
<ellipse cx="440.0" cy="151.5" rx="3.5" ry="4.4" transform="rotate(0 440.0 151.5)" fill="#5a3e70" opacity="0.64"/>
<ellipse cx="268.1" cy="170.0" rx="2.5" ry="2.7" transform="rotate(0 268.1 170.0)" fill="#5a3e70" opacity="0.53"/>
<ellipse cx="149.6" cy="331.8" rx="3.3" ry="3.8" transform="rotate(0 149.6 331.8)" fill="#6a4a82" opacity="0.37"/>
<ellipse cx="186.6" cy="302.8" rx="3.5" ry="3.5" transform="rotate(0 186.6 302.8)" fill="#5a3e70" opacity="0.53"/>
<ellipse cx="33.8" cy="396.7" rx="3.0" ry="3.9" transform="rotate(0 33.8 396.7)" fill="#7a5690" opacity="0.38"/>
<ellipse cx="61.5" cy="298.2" rx="2.8" ry="3.0" transform="rotate(0 61.5 298.2)" fill="#5a3e70" opacity="0.52"/>
<ellipse cx="202.9" cy="393.1" rx="4.1" ry="5.3" transform="rotate(0 202.9 393.1)" fill="#8a64a0" opacity="0.42"/>
<ellipse cx="15.4" cy="121.5" rx="2.2" ry="1.9" transform="rotate(0 15.4 121.5)" fill="#6a4a82" opacity="0.43"/>
<ellipse cx="317.6" cy="158.3" rx="2.7" ry="3.5" transform="rotate(0 317.6 158.3)" fill="#7a5690" opacity="0.74"/>
<ellipse cx="38.4" cy="218.2" rx="2.8" ry="3.5" transform="rotate(0 38.4 218.2)" fill="#8a64a0" opacity="0.71"/>
<ellipse cx="339.7" cy="197.5" rx="3.7" ry="4.2" transform="rotate(0 339.7 197.5)" fill="#5a3e70" opacity="0.74"/>
<ellipse cx="263.3" cy="358.1" rx="2.3" ry="2.5" transform="rotate(0 263.3 358.1)" fill="#8a64a0" opacity="0.68"/>
<ellipse cx="42.4" cy="313.6" rx="3.9" ry="3.8" transform="rotate(0 42.4 313.6)" fill="#8a64a0" opacity="0.42"/>
<ellipse cx="495.2" cy="253.6" rx="4.2" ry="4.4" transform="rotate(0 495.2 253.6)" fill="#8a64a0" opacity="0.56"/>
<ellipse cx="488.6" cy="240.3" rx="2.2" ry="2.1" transform="rotate(0 488.6 240.3)" fill="#6a4a82" opacity="0.69"/>
<ellipse cx="296.3" cy="110.1" rx="3.3" ry="3.1" transform="rotate(0 296.3 110.1)" fill="#5a3e70" opacity="0.55"/>
<ellipse cx="229.9" cy="215.6" rx="3.7" ry="3.7" transform="rotate(0 229.9 215.6)" fill="#7a5690" opacity="0.41"/>
<ellipse cx="509.8" cy="289.5" rx="2.8" ry="2.9" transform="rotate(0 509.8 289.5)" fill="#5a3e70" opacity="0.72"/>
<ellipse cx="147.4" cy="39.1" rx="3.3" ry="3.2" transform="rotate(0 147.4 39.1)" fill="#6a4a82" opacity="0.59"/>
<ellipse cx="420.5" cy="28.9" rx="3.0" ry="3.1" transform="rotate(0 420.5 28.9)" fill="#8a64a0" opacity="0.53"/>
<ellipse cx="21.9" cy="87.0" rx="3.9" ry="4.8" transform="rotate(0 21.9 87.0)" fill="#6a4a82" opacity="0.38"/>
<ellipse cx="402.0" cy="360.3" rx="2.8" ry="2.9" transform="rotate(0 402.0 360.3)" fill="#5a3e70" opacity="0.66"/>
<ellipse cx="232.4" cy="71.1" rx="3.9" ry="3.6" transform="rotate(0 232.4 71.1)" fill="#6a4a82" opacity="0.4"/>
<ellipse cx="445.4" cy="66.1" rx="3.5" ry="3.2" transform="rotate(0 445.4 66.1)" fill="#7a5690" opacity="0.63"/>
<ellipse cx="506.3" cy="309.5" rx="3.2" ry="3.4" transform="rotate(0 506.3 309.5)" fill="#8a64a0" opacity="0.74"/>
<ellipse cx="345.6" cy="194.1" rx="3.0" ry="2.5" transform="rotate(0 345.6 194.1)" fill="#5a3e70" opacity="0.75"/>
<ellipse cx="378.1" cy="76.5" rx="2.2" ry="2.5" transform="rotate(0 378.1 76.5)" fill="#7a5690" opacity="0.53"/>
<ellipse cx="63.7" cy="43.9" rx="3.4" ry="3.4" transform="rotate(0 63.7 43.9)" fill="#5a3e70" opacity="0.4"/>
<ellipse cx="174.7" cy="336.4" rx="2.9" ry="3.7" transform="rotate(0 174.7 336.4)" fill="#6a4a82" opacity="0.39"/>
<ellipse cx="0.3" cy="234.7" rx="4.1" ry="4.6" transform="rotate(0 0.3 234.7)" fill="#8a64a0" opacity="0.57"/>
<ellipse cx="339.7" cy="2.7" rx="3.1" ry="3.5" transform="rotate(0 339.7 2.7)" fill="#5a3e70" opacity="0.41"/>
<ellipse cx="32.7" cy="330.7" rx="2.7" ry="2.4" transform="rotate(0 32.7 330.7)" fill="#6a4a82" opacity="0.36"/>
<ellipse cx="294.2" cy="334.9" rx="2.2" ry="2.6" transform="rotate(0 294.2 334.9)" fill="#6a4a82" opacity="0.6"/>
<ellipse cx="209.3" cy="174.3" rx="3.6" ry="3.4" transform="rotate(0 209.3 174.3)" fill="#8a64a0" opacity="0.38"/>
<ellipse cx="77.4" cy="44.7" rx="3.2" ry="2.8" transform="rotate(0 77.4 44.7)" fill="#5a3e70" opacity="0.35"/>
<ellipse cx="486.0" cy="40.7" rx="3.4" ry="3.2" transform="rotate(0 486.0 40.7)" fill="#6a4a82" opacity="0.35"/>
<ellipse cx="407.2" cy="364.0" rx="3.7" ry="3.9" transform="rotate(0 407.2 364.0)" fill="#5a3e70" opacity="0.73"/>
<ellipse cx="143.9" cy="68.3" rx="2.9" ry="2.3" transform="rotate(0 143.9 68.3)" fill="#7a5690" opacity="0.69"/>
<ellipse cx="99.6" cy="316.7" rx="3.6" ry="4.2" transform="rotate(0 99.6 316.7)" fill="#6a4a82" opacity="0.69"/>
<ellipse cx="370.8" cy="21.7" rx="3.7" ry="3.3" transform="rotate(0 370.8 21.7)" fill="#5a3e70" opacity="0.57"/>
<ellipse cx="226.7" cy="407.9" rx="2.6" ry="3.3" transform="rotate(0 226.7 407.9)" fill="#7a5690" opacity="0.39"/>
<ellipse cx="42.3" cy="132.7" rx="3.1" ry="3.5" transform="rotate(0 42.3 132.7)" fill="#5a3e70" opacity="0.59"/>
<ellipse cx="51.2" cy="376.5" rx="4.0" ry="4.7" transform="rotate(0 51.2 376.5)" fill="#5a3e70" opacity="0.41"/>
<ellipse cx="21.2" cy="289.1" rx="3.9" ry="4.6" transform="rotate(0 21.2 289.1)" fill="#6a4a82" opacity="0.72"/>
<ellipse cx="481.6" cy="235.9" rx="2.6" ry="2.8" transform="rotate(0 481.6 235.9)" fill="#8a64a0" opacity="0.35"/>
<ellipse cx="335.6" cy="291.5" rx="2.5" ry="3.2" transform="rotate(0 335.6 291.5)" fill="#8a64a0" opacity="0.56"/>
<ellipse cx="165.3" cy="303.2" rx="3.1" ry="3.2" transform="rotate(0 165.3 303.2)" fill="#7a5690" opacity="0.54"/>
<ellipse cx="141.1" cy="25.6" rx="3.3" ry="2.9" transform="rotate(0 141.1 25.6)" fill="#7a5690" opacity="0.54"/>
<ellipse cx="221.1" cy="309.5" rx="2.9" ry="3.2" transform="rotate(0 221.1 309.5)" fill="#6a4a82" opacity="0.4"/>
<ellipse cx="427.9" cy="29.2" rx="2.7" ry="3.3" transform="rotate(0 427.9 29.2)" fill="#6a4a82" opacity="0.55"/>
<ellipse cx="229.2" cy="88.6" rx="3.8" ry="3.8" transform="rotate(0 229.2 88.6)" fill="#5a3e70" opacity="0.61"/>
<ellipse cx="431.4" cy="213.8" rx="2.8" ry="2.5" transform="rotate(0 431.4 213.8)" fill="#6a4a82" opacity="0.7"/>
<ellipse cx="445.8" cy="138.2" rx="4.0" ry="5.0" transform="rotate(0 445.8 138.2)" fill="#8a64a0" opacity="0.74"/>
<ellipse cx="215.6" cy="150.7" rx="4.0" ry="4.5" transform="rotate(0 215.6 150.7)" fill="#5a3e70" opacity="0.42"/>
<ellipse cx="378.9" cy="184.0" rx="2.3" ry="1.9" transform="rotate(0 378.9 184.0)" fill="#5a3e70" opacity="0.53"/>
<ellipse cx="13.7" cy="410.6" rx="4.1" ry="3.4" transform="rotate(0 13.7 410.6)" fill="#8a64a0" opacity="0.39"/>
<ellipse cx="29.0" cy="168.8" rx="3.0" ry="2.6" transform="rotate(0 29.0 168.8)" fill="#5a3e70" opacity="0.49"/>
<ellipse cx="9.9" cy="197.1" rx="2.5" ry="2.2" transform="rotate(0 9.9 197.1)" fill="#5a3e70" opacity="0.52"/>
<ellipse cx="185.6" cy="230.7" rx="3.7" ry="4.1" transform="rotate(0 185.6 230.7)" fill="#8a64a0" opacity="0.49"/>
<ellipse cx="495.7" cy="6.5" rx="2.6" ry="2.2" transform="rotate(0 495.7 6.5)" fill="#8a64a0" opacity="0.75"/>
<ellipse cx="373.5" cy="247.7" rx="2.3" ry="2.4" transform="rotate(0 373.5 247.7)" fill="#7a5690" opacity="0.73"/>
<ellipse cx="191.6" cy="160.2" rx="4.2" ry="5.1" transform="rotate(0 191.6 160.2)" fill="#6a4a82" opacity="0.73"/>
<ellipse cx="35.0" cy="246.9" rx="2.8" ry="3.1" transform="rotate(0 35.0 246.9)" fill="#7a5690" opacity="0.51"/>
<ellipse cx="263.1" cy="134.6" rx="3.4" ry="3.6" transform="rotate(0 263.1 134.6)" fill="#7a5690" opacity="0.66"/>
<ellipse cx="39.5" cy="24.1" rx="3.1" ry="3.8" transform="rotate(0 39.5 24.1)" fill="#6a4a82" opacity="0.66"/>
<ellipse cx="115.0" cy="57.4" rx="2.9" ry="2.7" transform="rotate(0 115.0 57.4)" fill="#5a3e70" opacity="0.72"/>
<ellipse cx="87.3" cy="50.9" rx="2.5" ry="2.0" transform="rotate(0 87.3 50.9)" fill="#7a5690" opacity="0.55"/>
<ellipse cx="395.3" cy="275.5" rx="3.5" ry="3.5" transform="rotate(0 395.3 275.5)" fill="#6a4a82" opacity="0.47"/>
<ellipse cx="52.1" cy="22.0" rx="3.8" ry="4.5" transform="rotate(0 52.1 22.0)" fill="#8a64a0" opacity="0.44"/>
<ellipse cx="188.9" cy="116.7" rx="3.9" ry="3.1" transform="rotate(0 188.9 116.7)" fill="#5a3e70" opacity="0.38"/>
<ellipse cx="451.9" cy="249.8" rx="4.1" ry="3.5" transform="rotate(0 451.9 249.8)" fill="#5a3e70" opacity="0.44"/>
<ellipse cx="266.1" cy="12.8" rx="3.9" ry="4.0" transform="rotate(0 266.1 12.8)" fill="#5a3e70" opacity="0.53"/>
<ellipse cx="507.5" cy="354.2" rx="3.0" ry="2.6" transform="rotate(0 507.5 354.2)" fill="#5a3e70" opacity="0.62"/>
<ellipse cx="282.1" cy="299.4" rx="2.3" ry="2.5" transform="rotate(0 282.1 299.4)" fill="#6a4a82" opacity="0.6"/>
<ellipse cx="55.6" cy="294.3" rx="2.4" ry="1.9" transform="rotate(0 55.6 294.3)" fill="#6a4a82" opacity="0.72"/>
<ellipse cx="336.1" cy="388.1" rx="3.3" ry="3.3" transform="rotate(0 336.1 388.1)" fill="#7a5690" opacity="0.58"/>
<ellipse cx="137.9" cy="412.0" rx="4.1" ry="5.3" transform="rotate(0 137.9 412.0)" fill="#6a4a82" opacity="0.45"/>
<ellipse cx="44.7" cy="229.7" rx="4.0" ry="5.0" transform="rotate(0 44.7 229.7)" fill="#8a64a0" opacity="0.48"/>
<ellipse cx="42.8" cy="117.9" rx="2.3" ry="1.8" transform="rotate(0 42.8 117.9)" fill="#5a3e70" opacity="0.48"/>
<ellipse cx="372.2" cy="102.3" rx="3.7" ry="4.6" transform="rotate(0 372.2 102.3)" fill="#6a4a82" opacity="0.6"/>
<ellipse cx="82.8" cy="40.8" rx="4.0" ry="4.4" transform="rotate(0 82.8 40.8)" fill="#6a4a82" opacity="0.61"/>
<ellipse cx="324.2" cy="83.0" rx="3.8" ry="4.7" transform="rotate(0 324.2 83.0)" fill="#6a4a82" opacity="0.43"/>
<ellipse cx="157.5" cy="293.0" rx="3.0" ry="3.5" transform="rotate(0 157.5 293.0)" fill="#5a3e70" opacity="0.73"/>
<ellipse cx="47.2" cy="415.9" rx="2.9" ry="2.8" transform="rotate(0 47.2 415.9)" fill="#7a5690" opacity="0.47"/>
<ellipse cx="355.0" cy="54.3" rx="2.5" ry="2.6" transform="rotate(0 355.0 54.3)" fill="#5a3e70" opacity="0.58"/>
<ellipse cx="78.8" cy="299.3" rx="2.7" ry="2.2" transform="rotate(0 78.8 299.3)" fill="#6a4a82" opacity="0.69"/>
<ellipse cx="195.3" cy="12.5" rx="2.3" ry="2.8" transform="rotate(0 195.3 12.5)" fill="#7a5690" opacity="0.56"/>
<ellipse cx="52.9" cy="38.3" rx="2.6" ry="2.6" transform="rotate(0 52.9 38.3)" fill="#6a4a82" opacity="0.66"/>
<ellipse cx="498.8" cy="132.2" rx="3.5" ry="3.0" transform="rotate(0 498.8 132.2)" fill="#6a4a82" opacity="0.38"/>
<ellipse cx="364.3" cy="281.2" rx="3.1" ry="3.4" transform="rotate(0 364.3 281.2)" fill="#8a64a0" opacity="0.56"/>
<ellipse cx="185.0" cy="126.0" rx="3.7" ry="4.2" transform="rotate(0 185.0 126.0)" fill="#7a5690" opacity="0.66"/>
<ellipse cx="259.7" cy="193.4" rx="2.6" ry="2.9" transform="rotate(0 259.7 193.4)" fill="#8a64a0" opacity="0.37"/>
<ellipse cx="81.8" cy="320.3" rx="2.3" ry="2.8" transform="rotate(0 81.8 320.3)" fill="#8a64a0" opacity="0.67"/>
<ellipse cx="277.2" cy="2.3" rx="4.1" ry="3.7" transform="rotate(0 277.2 2.3)" fill="#7a5690" opacity="0.69"/>
<ellipse cx="221.6" cy="171.7" rx="3.8" ry="4.2" transform="rotate(0 221.6 171.7)" fill="#6a4a82" opacity="0.35"/>
<ellipse cx="260.4" cy="356.1" rx="3.6" ry="3.2" transform="rotate(0 260.4 356.1)" fill="#8a64a0" opacity="0.36"/>
<ellipse cx="361.0" cy="280.5" rx="2.7" ry="2.4" transform="rotate(0 361.0 280.5)" fill="#6a4a82" opacity="0.47"/>
<ellipse cx="339.1" cy="363.2" rx="2.2" ry="1.9" transform="rotate(0 339.1 363.2)" fill="#6a4a82" opacity="0.63"/>
<ellipse cx="412.7" cy="78.1" rx="4.0" ry="3.6" transform="rotate(0 412.7 78.1)" fill="#5a3e70" opacity="0.61"/>
<ellipse cx="64.7" cy="341.7" rx="2.9" ry="3.5" transform="rotate(0 64.7 341.7)" fill="#5a3e70" opacity="0.64"/>
<ellipse cx="210.9" cy="321.4" rx="3.6" ry="3.3" transform="rotate(0 210.9 321.4)" fill="#5a3e70" opacity="0.46"/>
<ellipse cx="483.8" cy="175.0" rx="4.2" ry="4.6" transform="rotate(0 483.8 175.0)" fill="#7a5690" opacity="0.72"/>
<ellipse cx="143.1" cy="14.4" rx="3.4" ry="3.7" transform="rotate(0 143.1 14.4)" fill="#5a3e70" opacity="0.7"/>
<ellipse cx="8.5" cy="238.2" rx="2.5" ry="2.8" transform="rotate(0 8.5 238.2)" fill="#6a4a82" opacity="0.52"/>
<ellipse cx="439.5" cy="181.4" rx="3.7" ry="4.4" transform="rotate(0 439.5 181.4)" fill="#8a64a0" opacity="0.54"/>
<ellipse cx="121.8" cy="285.4" rx="3.9" ry="5.1" transform="rotate(0 121.8 285.4)" fill="#8a64a0" opacity="0.49"/>
<ellipse cx="239.7" cy="92.9" rx="2.5" ry="3.0" transform="rotate(0 239.7 92.9)" fill="#5a3e70" opacity="0.69"/>
<ellipse cx="211.2" cy="262.9" rx="3.4" ry="3.8" transform="rotate(0 211.2 262.9)" fill="#8a64a0" opacity="0.51"/>
<ellipse cx="350.2" cy="391.0" rx="2.4" ry="2.9" transform="rotate(0 350.2 391.0)" fill="#8a64a0" opacity="0.42"/>
<ellipse cx="34.6" cy="273.0" rx="4.0" ry="4.0" transform="rotate(0 34.6 273.0)" fill="#5a3e70" opacity="0.36"/>
<ellipse cx="171.4" cy="49.2" rx="3.4" ry="3.2" transform="rotate(0 171.4 49.2)" fill="#6a4a82" opacity="0.48"/>
<ellipse cx="23.4" cy="94.5" rx="4.1" ry="4.2" transform="rotate(0 23.4 94.5)" fill="#8a64a0" opacity="0.51"/>
<ellipse cx="224.4" cy="237.8" rx="4.1" ry="3.7" transform="rotate(0 224.4 237.8)" fill="#5a3e70" opacity="0.61"/>
<ellipse cx="333.5" cy="186.6" rx="2.4" ry="2.9" transform="rotate(0 333.5 186.6)" fill="#7a5690" opacity="0.5"/>
<ellipse cx="477.6" cy="233.8" rx="3.5" ry="4.6" transform="rotate(0 477.6 233.8)" fill="#5a3e70" opacity="0.73"/>
<ellipse cx="361.6" cy="336.6" rx="3.4" ry="4.4" transform="rotate(0 361.6 336.6)" fill="#5a3e70" opacity="0.48"/>
<ellipse cx="33.3" cy="389.3" rx="3.9" ry="4.7" transform="rotate(0 33.3 389.3)" fill="#6a4a82" opacity="0.51"/>
<ellipse cx="157.8" cy="257.0" rx="3.9" ry="3.8" transform="rotate(0 157.8 257.0)" fill="#8a64a0" opacity="0.36"/>
<ellipse cx="332.7" cy="365.6" rx="4.0" ry="4.2" transform="rotate(0 332.7 365.6)" fill="#5a3e70" opacity="0.56"/>
<ellipse cx="34.5" cy="260.1" rx="2.7" ry="3.1" transform="rotate(0 34.5 260.1)" fill="#8a64a0" opacity="0.61"/>
<ellipse cx="125.1" cy="311.1" rx="3.2" ry="3.7" transform="rotate(0 125.1 311.1)" fill="#8a64a0" opacity="0.64"/>
<ellipse cx="52.9" cy="36.8" rx="2.6" ry="2.4" transform="rotate(0 52.9 36.8)" fill="#8a64a0" opacity="0.55"/>
<ellipse cx="204.7" cy="243.0" rx="2.5" ry="2.9" transform="rotate(0 204.7 243.0)" fill="#6a4a82" opacity="0.47"/>
<ellipse cx="243.2" cy="185.1" rx="3.3" ry="2.7" transform="rotate(0 243.2 185.1)" fill="#6a4a82" opacity="0.5"/>
<ellipse cx="78.9" cy="239.1" rx="3.2" ry="2.7" transform="rotate(0 78.9 239.1)" fill="#8a64a0" opacity="0.36"/>
<ellipse cx="214.3" cy="95.4" rx="3.6" ry="4.4" transform="rotate(0 214.3 95.4)" fill="#5a3e70" opacity="0.73"/>
<ellipse cx="124.6" cy="235.8" rx="2.5" ry="2.6" transform="rotate(0 124.6 235.8)" fill="#6a4a82" opacity="0.6"/>
<ellipse cx="510.6" cy="156.3" rx="3.0" ry="3.8" transform="rotate(0 510.6 156.3)" fill="#7a5690" opacity="0.62"/>
<ellipse cx="492.1" cy="110.1" rx="2.8" ry="3.4" transform="rotate(0 492.1 110.1)" fill="#6a4a82" opacity="0.61"/>
<ellipse cx="61.7" cy="229.7" rx="2.5" ry="3.1" transform="rotate(0 61.7 229.7)" fill="#7a5690" opacity="0.69"/>
<ellipse cx="312.6" cy="116.5" rx="4.1" ry="5.2" transform="rotate(0 312.6 116.5)" fill="#6a4a82" opacity="0.75"/>
<ellipse cx="327.4" cy="205.4" rx="3.7" ry="3.9" transform="rotate(0 327.4 205.4)" fill="#6a4a82" opacity="0.7"/>
<ellipse cx="68.2" cy="200.3" rx="4.0" ry="4.8" transform="rotate(0 68.2 200.3)" fill="#7a5690" opacity="0.39"/>
<ellipse cx="519.4" cy="149.7" rx="3.5" ry="3.0" transform="rotate(0 519.4 149.7)" fill="#6a4a82" opacity="0.38"/>
<ellipse cx="436.2" cy="221.8" rx="3.7" ry="4.3" transform="rotate(0 436.2 221.8)" fill="#7a5690" opacity="0.58"/>
<ellipse cx="230.9" cy="103.5" rx="2.5" ry="2.0" transform="rotate(0 230.9 103.5)" fill="#6a4a82" opacity="0.59"/>
<ellipse cx="173.4" cy="353.7" rx="3.7" ry="4.3" transform="rotate(0 173.4 353.7)" fill="#5a3e70" opacity="0.66"/>
<ellipse cx="285.9" cy="214.9" rx="2.6" ry="3.2" transform="rotate(0 285.9 214.9)" fill="#7a5690" opacity="0.46"/>
<ellipse cx="379.5" cy="383.6" rx="4.1" ry="5.3" transform="rotate(0 379.5 383.6)" fill="#7a5690" opacity="0.68"/>
<ellipse cx="245.4" cy="288.6" rx="2.6" ry="3.4" transform="rotate(0 245.4 288.6)" fill="#7a5690" opacity="0.61"/>
<ellipse cx="392.8" cy="379.2" rx="4.1" ry="4.5" transform="rotate(0 392.8 379.2)" fill="#6a4a82" opacity="0.68"/>
<ellipse cx="91.6" cy="408.4" rx="3.1" ry="3.9" transform="rotate(0 91.6 408.4)" fill="#7a5690" opacity="0.54"/>
<ellipse cx="158.6" cy="110.5" rx="3.2" ry="3.8" transform="rotate(0 158.6 110.5)" fill="#8a64a0" opacity="0.52"/>
<ellipse cx="195.1" cy="144.2" rx="2.6" ry="3.1" transform="rotate(0 195.1 144.2)" fill="#6a4a82" opacity="0.62"/>
<ellipse cx="206.6" cy="317.1" rx="2.9" ry="3.3" transform="rotate(0 206.6 317.1)" fill="#6a4a82" opacity="0.57"/>
<ellipse cx="378.1" cy="70.7" rx="3.4" ry="3.2" transform="rotate(0 378.1 70.7)" fill="#6a4a82" opacity="0.4"/>
<ellipse cx="398.6" cy="36.8" rx="3.5" ry="3.1" transform="rotate(0 398.6 36.8)" fill="#5a3e70" opacity="0.66"/>
<ellipse cx="267.0" cy="238.5" rx="4.0" ry="3.7" transform="rotate(0 267.0 238.5)" fill="#8a64a0" opacity="0.62"/>
<ellipse cx="374.8" cy="382.6" rx="2.5" ry="2.5" transform="rotate(0 374.8 382.6)" fill="#7a5690" opacity="0.56"/>
<ellipse cx="512.8" cy="98.3" rx="2.7" ry="3.3" transform="rotate(0 512.8 98.3)" fill="#5a3e70" opacity="0.58"/>
<ellipse cx="145.5" cy="315.4" rx="2.8" ry="3.1" transform="rotate(0 145.5 315.4)" fill="#7a5690" opacity="0.57"/>
<ellipse cx="406.0" cy="275.9" rx="3.5" ry="2.8" transform="rotate(0 406.0 275.9)" fill="#8a64a0" opacity="0.49"/>
<ellipse cx="318.8" cy="235.8" rx="3.4" ry="4.2" transform="rotate(0 318.8 235.8)" fill="#7a5690" opacity="0.41"/>
<ellipse cx="426.7" cy="351.7" rx="2.3" ry="2.4" transform="rotate(0 426.7 351.7)" fill="#5a3e70" opacity="0.64"/>
<ellipse cx="337.0" cy="62.8" rx="3.7" ry="3.0" transform="rotate(0 337.0 62.8)" fill="#6a4a82" opacity="0.57"/>
<ellipse cx="40.1" cy="96.7" rx="3.4" ry="2.8" transform="rotate(0 40.1 96.7)" fill="#7a5690" opacity="0.51"/>
<ellipse cx="60.9" cy="412.3" rx="2.8" ry="2.3" transform="rotate(0 60.9 412.3)" fill="#8a64a0" opacity="0.5"/>
<ellipse cx="57.3" cy="250.7" rx="3.5" ry="4.1" transform="rotate(0 57.3 250.7)" fill="#5a3e70" opacity="0.7"/>
<ellipse cx="193.9" cy="95.8" rx="2.4" ry="2.7" transform="rotate(0 193.9 95.8)" fill="#8a64a0" opacity="0.39"/>
<ellipse cx="374.4" cy="368.8" rx="2.3" ry="2.5" transform="rotate(0 374.4 368.8)" fill="#5a3e70" opacity="0.64"/>
<ellipse cx="247.1" cy="315.1" rx="3.7" ry="3.6" transform="rotate(0 247.1 315.1)" fill="#5a3e70" opacity="0.65"/>
<ellipse cx="305.0" cy="181.6" rx="2.5" ry="2.6" transform="rotate(0 305.0 181.6)" fill="#6a4a82" opacity="0.72"/>
<ellipse cx="8.0" cy="204.9" rx="2.9" ry="2.6" transform="rotate(0 8.0 204.9)" fill="#5a3e70" opacity="0.67"/>
<ellipse cx="34.5" cy="168.8" rx="3.2" ry="3.1" transform="rotate(0 34.5 168.8)" fill="#8a64a0" opacity="0.64"/>
<ellipse cx="337.9" cy="15.0" rx="2.4" ry="2.1" transform="rotate(0 337.9 15.0)" fill="#7a5690" opacity="0.38"/>
<ellipse cx="451.4" cy="128.6" rx="3.3" ry="3.5" transform="rotate(0 451.4 128.6)" fill="#6a4a82" opacity="0.42"/>
<ellipse cx="339.5" cy="229.7" rx="3.8" ry="4.6" transform="rotate(0 339.5 229.7)" fill="#5a3e70" opacity="0.53"/>
<ellipse cx="97.6" cy="68.1" rx="2.9" ry="3.0" transform="rotate(0 97.6 68.1)" fill="#8a64a0" opacity="0.63"/>
<ellipse cx="477.7" cy="13.0" rx="4.1" ry="4.9" transform="rotate(0 477.7 13.0)" fill="#7a5690" opacity="0.73"/>
<ellipse cx="82.4" cy="238.7" rx="3.0" ry="3.6" transform="rotate(0 82.4 238.7)" fill="#7a5690" opacity="0.63"/>
<ellipse cx="144.7" cy="402.4" rx="3.8" ry="4.7" transform="rotate(0 144.7 402.4)" fill="#6a4a82" opacity="0.64"/>
<ellipse cx="130.9" cy="56.5" rx="2.4" ry="2.7" transform="rotate(0 130.9 56.5)" fill="#5a3e70" opacity="0.52"/>
<ellipse cx="443.1" cy="55.6" rx="2.6" ry="2.8" transform="rotate(0 443.1 55.6)" fill="#8a64a0" opacity="0.71"/>
<ellipse cx="428.4" cy="141.0" rx="2.8" ry="2.7" transform="rotate(0 428.4 141.0)" fill="#7a5690" opacity="0.62"/>
<ellipse cx="207.0" cy="160.3" rx="2.9" ry="3.3" transform="rotate(0 207.0 160.3)" fill="#5a3e70" opacity="0.43"/>
<ellipse cx="254.7" cy="121.6" rx="2.8" ry="2.5" transform="rotate(0 254.7 121.6)" fill="#8a64a0" opacity="0.7"/>
<ellipse cx="464.0" cy="93.2" rx="3.5" ry="3.8" transform="rotate(0 464.0 93.2)" fill="#8a64a0" opacity="0.52"/>
<ellipse cx="159.5" cy="29.0" rx="3.8" ry="4.5" transform="rotate(0 159.5 29.0)" fill="#6a4a82" opacity="0.72"/>
<ellipse cx="115.2" cy="71.9" rx="3.3" ry="4.3" transform="rotate(0 115.2 71.9)" fill="#5a3e70" opacity="0.59"/>
<ellipse cx="250.2" cy="261.5" rx="2.2" ry="2.3" transform="rotate(0 250.2 261.5)" fill="#8a64a0" opacity="0.53"/>
<ellipse cx="333.5" cy="359.1" rx="3.8" ry="4.6" transform="rotate(0 333.5 359.1)" fill="#8a64a0" opacity="0.7"/>
<ellipse cx="198.3" cy="291.1" rx="3.2" ry="3.2" transform="rotate(0 198.3 291.1)" fill="#5a3e70" opacity="0.59"/>
<ellipse cx="504.4" cy="344.3" rx="3.6" ry="4.1" transform="rotate(0 504.4 344.3)" fill="#8a64a0" opacity="0.54"/>
<ellipse cx="249.9" cy="244.2" rx="3.7" ry="4.6" transform="rotate(0 249.9 244.2)" fill="#6a4a82" opacity="0.4"/>
<ellipse cx="117.9" cy="386.1" rx="4.1" ry="3.7" transform="rotate(0 117.9 386.1)" fill="#7a5690" opacity="0.69"/>
<ellipse cx="214.6" cy="175.4" rx="2.7" ry="2.4" transform="rotate(0 214.6 175.4)" fill="#7a5690" opacity="0.57"/>
<ellipse cx="66.9" cy="180.4" rx="2.2" ry="1.8" transform="rotate(0 66.9 180.4)" fill="#5a3e70" opacity="0.59"/>
<ellipse cx="254.1" cy="379.6" rx="3.9" ry="4.2" transform="rotate(0 254.1 379.6)" fill="#8a64a0" opacity="0.39"/>
<ellipse cx="108.5" cy="376.5" rx="3.1" ry="2.5" transform="rotate(0 108.5 376.5)" fill="#5a3e70" opacity="0.64"/>
<ellipse cx="477.3" cy="116.1" rx="2.3" ry="2.6" transform="rotate(0 477.3 116.1)" fill="#7a5690" opacity="0.58"/>
<ellipse cx="115.4" cy="14.3" rx="2.9" ry="2.8" transform="rotate(0 115.4 14.3)" fill="#5a3e70" opacity="0.39"/>
<ellipse cx="47.0" cy="175.0" rx="3.0" ry="3.4" transform="rotate(0 47.0 175.0)" fill="#8a64a0" opacity="0.62"/>
<ellipse cx="378.1" cy="306.9" rx="3.9" ry="3.7" transform="rotate(0 378.1 306.9)" fill="#7a5690" opacity="0.57"/>
<ellipse cx="368.8" cy="404.7" rx="2.5" ry="2.7" transform="rotate(0 368.8 404.7)" fill="#8a64a0" opacity="0.49"/>
<ellipse cx="297.7" cy="400.1" rx="2.9" ry="3.3" transform="rotate(0 297.7 400.1)" fill="#7a5690" opacity="0.68"/>
<ellipse cx="182.8" cy="377.1" rx="3.4" ry="3.8" transform="rotate(0 182.8 377.1)" fill="#8a64a0" opacity="0.63"/>
<ellipse cx="235.1" cy="290.8" rx="3.8" ry="3.1" transform="rotate(0 235.1 290.8)" fill="#8a64a0" opacity="0.64"/>
<ellipse cx="462.4" cy="305.1" rx="3.5" ry="3.1" transform="rotate(0 462.4 305.1)" fill="#5a3e70" opacity="0.61"/>
<ellipse cx="30.3" cy="69.3" rx="3.1" ry="3.6" transform="rotate(0 30.3 69.3)" fill="#6a4a82" opacity="0.52"/>
<ellipse cx="264.3" cy="262.8" rx="2.3" ry="2.3" transform="rotate(0 264.3 262.8)" fill="#8a64a0" opacity="0.69"/>
<ellipse cx="430.7" cy="291.9" rx="2.6" ry="2.7" transform="rotate(0 430.7 291.9)" fill="#5a3e70" opacity="0.61"/>
<ellipse cx="406.7" cy="283.3" rx="3.0" ry="3.5" transform="rotate(0 406.7 283.3)" fill="#5a3e70" opacity="0.73"/>
<ellipse cx="423.0" cy="242.2" rx="3.1" ry="3.7" transform="rotate(0 423.0 242.2)" fill="#6a4a82" opacity="0.42"/>
<ellipse cx="403.8" cy="97.6" rx="2.9" ry="2.6" transform="rotate(0 403.8 97.6)" fill="#5a3e70" opacity="0.59"/>
<ellipse cx="104.6" cy="28.4" rx="2.9" ry="3.3" transform="rotate(0 104.6 28.4)" fill="#8a64a0" opacity="0.44"/>
<ellipse cx="99.4" cy="415.2" rx="2.9" ry="3.4" transform="rotate(0 99.4 415.2)" fill="#5a3e70" opacity="0.4"/>
<ellipse cx="164.7" cy="369.8" rx="4.4" ry="4.4" transform="rotate(0 164.7 369.8)" fill="#f4e8ee" opacity="0.58"/>
<ellipse cx="497.2" cy="15.2" rx="4.7" ry="4.7" transform="rotate(0 497.2 15.2)" fill="#f4e8ee" opacity="0.77"/>
<ellipse cx="517.6" cy="130.9" rx="3.9" ry="3.9" transform="rotate(0 517.6 130.9)" fill="#f4e8ee" opacity="0.69"/>
<ellipse cx="241.1" cy="23.0" rx="3.4" ry="3.4" transform="rotate(0 241.1 23.0)" fill="#f4e8ee" opacity="0.75"/>
<ellipse cx="290.7" cy="362.8" rx="5.4" ry="5.4" transform="rotate(0 290.7 362.8)" fill="#f4e8ee" opacity="0.52"/>
<ellipse cx="213.0" cy="167.8" rx="4.4" ry="4.4" transform="rotate(0 213.0 167.8)" fill="#f4e8ee" opacity="0.5"/>
<ellipse cx="191.6" cy="103.4" rx="4.1" ry="4.1" transform="rotate(0 191.6 103.4)" fill="#f4e8ee" opacity="0.66"/>
<ellipse cx="239.9" cy="23.6" rx="4.8" ry="4.8" transform="rotate(0 239.9 23.6)" fill="#f4e8ee" opacity="0.77"/>
<ellipse cx="491.9" cy="334.1" rx="5.6" ry="5.6" transform="rotate(0 491.9 334.1)" fill="#f4e8ee" opacity="0.47"/>
<ellipse cx="421.2" cy="147.8" rx="3.9" ry="3.9" transform="rotate(0 421.2 147.8)" fill="#f4e8ee" opacity="0.56"/>
<ellipse cx="483.7" cy="295.1" rx="5.1" ry="5.1" transform="rotate(0 483.7 295.1)" fill="#f4e8ee" opacity="0.53"/>
<ellipse cx="370.7" cy="88.0" rx="4.3" ry="4.3" transform="rotate(0 370.7 88.0)" fill="#f4e8ee" opacity="0.72"/>
<ellipse cx="512.9" cy="242.9" rx="4.7" ry="4.7" transform="rotate(0 512.9 242.9)" fill="#f4e8ee" opacity="0.57"/>
<ellipse cx="61.6" cy="261.8" rx="4.9" ry="4.9" transform="rotate(0 61.6 261.8)" fill="#f4e8ee" opacity="0.42"/>
<ellipse cx="178.4" cy="129.7" rx="5.7" ry="5.7" transform="rotate(0 178.4 129.7)" fill="#f4e8ee" opacity="0.72"/>
<ellipse cx="150.2" cy="126.6" rx="4.1" ry="4.1" transform="rotate(0 150.2 126.6)" fill="#f4e8ee" opacity="0.45"/>
<ellipse cx="127.4" cy="111.0" rx="3.6" ry="3.6" transform="rotate(0 127.4 111.0)" fill="#f4e8ee" opacity="0.67"/>
<ellipse cx="30.1" cy="328.8" rx="5.2" ry="5.2" transform="rotate(0 30.1 328.8)" fill="#f4e8ee" opacity="0.5"/>
<ellipse cx="184.7" cy="256.9" rx="5.9" ry="5.9" transform="rotate(0 184.7 256.9)" fill="#f4e8ee" opacity="0.45"/>
<ellipse cx="398.8" cy="119.0" rx="5.3" ry="5.3" transform="rotate(0 398.8 119.0)" fill="#f4e8ee" opacity="0.69"/>
<ellipse cx="189.7" cy="73.3" rx="4.0" ry="4.0" transform="rotate(0 189.7 73.3)" fill="#f4e8ee" opacity="0.67"/>
<ellipse cx="327.6" cy="85.9" rx="3.8" ry="3.8" transform="rotate(0 327.6 85.9)" fill="#f4e8ee" opacity="0.55"/>
<ellipse cx="6.7" cy="237.1" rx="5.6" ry="5.6" transform="rotate(0 6.7 237.1)" fill="#f4e8ee" opacity="0.43"/>
<ellipse cx="34.7" cy="306.2" rx="5.1" ry="5.1" transform="rotate(0 34.7 306.2)" fill="#f4e8ee" opacity="0.74"/>
<ellipse cx="249.8" cy="401.0" rx="5.5" ry="5.5" transform="rotate(0 249.8 401.0)" fill="#f4e8ee" opacity="0.52"/>
<ellipse cx="187.1" cy="20.2" rx="4.6" ry="4.6" transform="rotate(0 187.1 20.2)" fill="#f4e8ee" opacity="0.65"/>
<ellipse cx="290.8" cy="231.9" rx="5.8" ry="5.8" transform="rotate(0 290.8 231.9)" fill="#f4e8ee" opacity="0.76"/>
<ellipse cx="152.5" cy="14.2" rx="3.3" ry="3.3" transform="rotate(0 152.5 14.2)" fill="#f4e8ee" opacity="0.78"/>
<ellipse cx="130.1" cy="402.3" rx="4.9" ry="4.9" transform="rotate(0 130.1 402.3)" fill="#f4e8ee" opacity="0.4"/>
<ellipse cx="251.3" cy="82.5" rx="4.0" ry="4.0" transform="rotate(0 251.3 82.5)" fill="#f4e8ee" opacity="0.54"/>
<ellipse cx="102.1" cy="4.2" rx="3.2" ry="3.2" transform="rotate(0 102.1 4.2)" fill="#f4e8ee" opacity="0.78"/>
<ellipse cx="207.9" cy="215.5" rx="3.3" ry="3.3" transform="rotate(0 207.9 215.5)" fill="#f4e8ee" opacity="0.59"/>
<ellipse cx="404.5" cy="373.3" rx="3.7" ry="3.7" transform="rotate(0 404.5 373.3)" fill="#f4e8ee" opacity="0.79"/>
<ellipse cx="384.6" cy="125.0" rx="3.4" ry="3.4" transform="rotate(0 384.6 125.0)" fill="#f4e8ee" opacity="0.5"/>
<ellipse cx="112.4" cy="55.3" rx="4.8" ry="4.8" transform="rotate(0 112.4 55.3)" fill="#f4e8ee" opacity="0.75"/>
<ellipse cx="254.7" cy="321.0" rx="5.6" ry="5.6" transform="rotate(0 254.7 321.0)" fill="#f4e8ee" opacity="0.79"/>
<ellipse cx="271.4" cy="262.1" rx="5.0" ry="5.0" transform="rotate(0 271.4 262.1)" fill="#f4e8ee" opacity="0.77"/>
<ellipse cx="337.8" cy="310.7" rx="4.7" ry="4.7" transform="rotate(0 337.8 310.7)" fill="#f4e8ee" opacity="0.72"/>
<ellipse cx="430.8" cy="48.6" rx="5.8" ry="5.8" transform="rotate(0 430.8 48.6)" fill="#f4e8ee" opacity="0.56"/>
<ellipse cx="335.5" cy="335.9" rx="3.2" ry="3.2" transform="rotate(0 335.5 335.9)" fill="#f4e8ee" opacity="0.65"/>
<ellipse cx="345.7" cy="235.3" rx="4.6" ry="4.6" transform="rotate(0 345.7 235.3)" fill="#f4e8ee" opacity="0.67"/>
<ellipse cx="226.0" cy="218.6" rx="5.5" ry="5.5" transform="rotate(0 226.0 218.6)" fill="#f4e8ee" opacity="0.71"/>
<ellipse cx="330.0" cy="398.3" rx="5.0" ry="5.0" transform="rotate(0 330.0 398.3)" fill="#f4e8ee" opacity="0.7"/>
<ellipse cx="311.1" cy="241.4" rx="5.3" ry="5.3" transform="rotate(0 311.1 241.4)" fill="#f4e8ee" opacity="0.74"/>
<ellipse cx="264.7" cy="18.9" rx="4.2" ry="4.2" transform="rotate(0 264.7 18.9)" fill="#f4e8ee" opacity="0.53"/>
<ellipse cx="436.4" cy="309.1" rx="5.1" ry="5.1" transform="rotate(0 436.4 309.1)" fill="#f4e8ee" opacity="0.73"/>
<ellipse cx="276.6" cy="199.2" rx="3.1" ry="3.1" transform="rotate(0 276.6 199.2)" fill="#f4e8ee" opacity="0.56"/>
<ellipse cx="403.3" cy="72.1" rx="4.6" ry="4.6" transform="rotate(0 403.3 72.1)" fill="#f4e8ee" opacity="0.51"/>
<ellipse cx="121.3" cy="104.3" rx="3.7" ry="3.7" transform="rotate(0 121.3 104.3)" fill="#f4e8ee" opacity="0.69"/>
<ellipse cx="129.4" cy="381.4" rx="3.1" ry="3.1" transform="rotate(0 129.4 381.4)" fill="#f4e8ee" opacity="0.79"/>
<ellipse cx="429.3" cy="374.9" rx="3.8" ry="3.8" transform="rotate(0 429.3 374.9)" fill="#f4e8ee" opacity="0.4"/>
<ellipse cx="400.9" cy="221.5" rx="3.5" ry="3.5" transform="rotate(0 400.9 221.5)" fill="#f4e8ee" opacity="0.76"/>
<ellipse cx="158.0" cy="67.7" rx="5.4" ry="5.4" transform="rotate(0 158.0 67.7)" fill="#f4e8ee" opacity="0.69"/>
<ellipse cx="84.5" cy="122.2" rx="4.8" ry="4.8" transform="rotate(0 84.5 122.2)" fill="#f4e8ee" opacity="0.66"/>
<ellipse cx="435.6" cy="75.1" rx="5.8" ry="5.8" transform="rotate(0 435.6 75.1)" fill="#f4e8ee" opacity="0.52"/>
<ellipse cx="84.9" cy="292.5" rx="4.8" ry="4.8" transform="rotate(0 84.9 292.5)" fill="#f4e8ee" opacity="0.61"/>
<ellipse cx="286.3" cy="287.4" rx="4.8" ry="4.8" transform="rotate(0 286.3 287.4)" fill="#f4e8ee" opacity="0.56"/>
<ellipse cx="180.5" cy="61.8" rx="3.3" ry="3.3" transform="rotate(0 180.5 61.8)" fill="#f4e8ee" opacity="0.53"/>
<ellipse cx="47.6" cy="336.2" rx="3.1" ry="3.1" transform="rotate(0 47.6 336.2)" fill="#f4e8ee" opacity="0.65"/>
<ellipse cx="265.7" cy="353.4" rx="5.0" ry="5.0" transform="rotate(0 265.7 353.4)" fill="#f4e8ee" opacity="0.57"/>
<ellipse cx="245" cy="250" rx="54" ry="108" transform="rotate(2 245 250)" fill="none" stroke="#9a6a9c" stroke-width="8" opacity="0.7" stroke-dasharray="9 5"/>
<ellipse cx="342" cy="262" rx="36" ry="42" transform="rotate(0 342 262)" fill="none" stroke="#9a6a9c" stroke-width="6" opacity="0.5" stroke-dasharray="8 6"/>
<ellipse cx="70" cy="300" rx="68" ry="60" transform="rotate(-10 70 300)" fill="none" stroke="#9a6a9c" stroke-width="6" opacity="0.5" stroke-dasharray="8 6"/>
<ellipse cx="440" cy="180" rx="38" ry="70" transform="rotate(10 440 180)" fill="none" stroke="#9a6a9c" stroke-width="6" opacity="0.5" stroke-dasharray="8 6"/>
<ellipse cx="492" cy="235" rx="30" ry="70" transform="rotate(5 492 235)" fill="none" stroke="#9a6a9c" stroke-width="6" opacity="0.5" stroke-dasharray="8 6"/>
<ellipse cx="400" cy="70" rx="48" ry="48" transform="rotate(0 400 70)" fill="none" stroke="#9a6a9c" stroke-width="6" opacity="0.5" stroke-dasharray="8 6"/>
<ellipse cx="160" cy="120" rx="30" ry="60" transform="rotate(-25 160 120)" fill="none" stroke="#9a6a9c" stroke-width="6" opacity="0.5" stroke-dasharray="8 6"/>
</g>
</g>
<rect x="140.6" y="58" width="120.7" height="96.3" filter="url(#nzl)" opacity="0.28"/>
<rect x="140.6" y="58" width="120.7" height="96.3" filter="url(#nzd)" opacity="0.25"/>
<rect x="140.6" y="58" width="120.7" height="96.3" filter="url(#nzs)" opacity="0.6" clip-path="url(#cb2)"/>
</g>
<rect x="141.1" y="58.5" width="119.8" height="95.6" fill="none" stroke="#2b2028" stroke-width="1.1"/>
<text x="332.00" y="32.30" font-size="9.3" font-weight="bold" fill="#000" textLength="22.10" lengthAdjust="spacingAndGlyphs">Bcl-2</text>
<text x="296.20" y="39.70" font-size="7.6" text-anchor="start" font-weight="normal" fill="#151515"  stroke="#151515" stroke-width="0.12">[%]</text>
<line x1="304.60" y1="46.60" x2="304.60" y2="151.25" stroke="#111" stroke-width="1.5"/>
<line x1="301.50" y1="50.00" x2="304.60" y2="50.00" stroke="#111" stroke-width="1.5"/>
<text x="298.30" y="52.95" font-size="8.3" text-anchor="end" font-weight="normal" fill="#151515"  stroke="#151515" stroke-width="0.12">25</text>
<line x1="301.50" y1="70.10" x2="304.60" y2="70.10" stroke="#111" stroke-width="1.5"/>
<text x="298.30" y="73.05" font-size="8.3" text-anchor="end" font-weight="normal" fill="#151515"  stroke="#151515" stroke-width="0.12">20</text>
<line x1="301.50" y1="90.20" x2="304.60" y2="90.20" stroke="#111" stroke-width="1.5"/>
<text x="298.30" y="93.15" font-size="8.3" text-anchor="end" font-weight="normal" fill="#151515"  stroke="#151515" stroke-width="0.12">15</text>
<line x1="301.50" y1="110.30" x2="304.60" y2="110.30" stroke="#111" stroke-width="1.5"/>
<text x="298.30" y="113.25" font-size="8.3" text-anchor="end" font-weight="normal" fill="#151515"  stroke="#151515" stroke-width="0.12">10</text>
<line x1="301.50" y1="130.40" x2="304.60" y2="130.40" stroke="#111" stroke-width="1.5"/>
<text x="298.30" y="133.35" font-size="8.3" text-anchor="end" font-weight="normal" fill="#151515"  stroke="#151515" stroke-width="0.12">5</text>
<line x1="301.50" y1="150.50" x2="304.60" y2="150.50" stroke="#111" stroke-width="1.5"/>
<text x="298.30" y="153.45" font-size="8.3" text-anchor="end" font-weight="normal" fill="#151515"  stroke="#151515" stroke-width="0.12">0</text>
<line x1="317.25" y1="66.08" x2="317.25" y2="74.62" stroke="#111" stroke-width="1.3"/>
<line x1="313.00" y1="66.08" x2="321.50" y2="66.08" stroke="#111" stroke-width="1.3"/>
<rect x="308.75" y="74.12" width="17.00" height="76.38" fill="#2e4b80"/>
<line x1="343.25" y1="89.40" x2="343.25" y2="95.52" stroke="#111" stroke-width="1.3"/>
<line x1="339.00" y1="89.40" x2="347.50" y2="89.40" stroke="#111" stroke-width="1.3"/>
<rect x="334.50" y="95.02" width="17.50" height="55.48" fill="#6bb046"/>
<line x1="369.25" y1="110.10" x2="369.25" y2="120.45" stroke="#111" stroke-width="1.3"/>
<line x1="365.00" y1="110.10" x2="373.50" y2="110.10" stroke="#111" stroke-width="1.3"/>
<rect x="360.50" y="119.95" width="17.50" height="30.55" fill="#552566"/>
<line x1="301.80" y1="150.50" x2="381.75" y2="150.50" stroke="#111" stroke-width="1.5"/>
<line x1="317.20" y1="150.50" x2="317.20" y2="153.50" stroke="#111" stroke-width="1.5"/>
<line x1="343.25" y1="150.50" x2="343.25" y2="153.50" stroke="#111" stroke-width="1.5"/>
<line x1="369.20" y1="150.50" x2="369.20" y2="153.50" stroke="#111" stroke-width="1.5"/>
<line x1="319.40" y1="55.25" x2="344.75" y2="55.25" stroke="#111" stroke-width="1.2"/>
<text x="331.90" y="53.55" font-size="8.6" text-anchor="middle" font-weight="bold" fill="#111" >*</text>
<line x1="319.40" y1="62.50" x2="365.60" y2="62.50" stroke="#111" stroke-width="1.2"/>
<text x="342.50" y="63.40" font-size="8.6" text-anchor="middle" font-weight="bold" fill="#111" >*</text>
<text x="459.00" y="31.10" font-size="9.3" font-weight="bold" fill="#000" textLength="17.70" lengthAdjust="spacingAndGlyphs">BIM</text>
<text x="420.50" y="39.20" font-size="7.6" text-anchor="start" font-weight="normal" fill="#151515"  stroke="#151515" stroke-width="0.12">[%]</text>
<line x1="428.75" y1="46.30" x2="428.75" y2="151.25" stroke="#111" stroke-width="1.5"/>
<line x1="425.65" y1="49.70" x2="428.75" y2="49.70" stroke="#111" stroke-width="1.5"/>
<text x="422.45" y="52.65" font-size="8.3" text-anchor="end" font-weight="normal" fill="#151515"  stroke="#151515" stroke-width="0.12">60</text>
<line x1="425.65" y1="83.30" x2="428.75" y2="83.30" stroke="#111" stroke-width="1.5"/>
<text x="422.45" y="86.25" font-size="8.3" text-anchor="end" font-weight="normal" fill="#151515"  stroke="#151515" stroke-width="0.12">40</text>
<line x1="425.65" y1="116.90" x2="428.75" y2="116.90" stroke="#111" stroke-width="1.5"/>
<text x="422.45" y="119.85" font-size="8.3" text-anchor="end" font-weight="normal" fill="#151515"  stroke="#151515" stroke-width="0.12">20</text>
<line x1="425.65" y1="150.50" x2="428.75" y2="150.50" stroke="#111" stroke-width="1.5"/>
<text x="422.45" y="153.45" font-size="8.3" text-anchor="end" font-weight="normal" fill="#151515"  stroke="#151515" stroke-width="0.12">0</text>
<line x1="441.75" y1="72.55" x2="441.75" y2="87.33" stroke="#111" stroke-width="1.3"/>
<line x1="437.15" y1="72.55" x2="446.35" y2="72.55" stroke="#111" stroke-width="1.3"/>
<rect x="433.00" y="86.83" width="17.50" height="63.67" fill="#2e4b80"/>
<line x1="467.50" y1="85.48" x2="467.50" y2="102.45" stroke="#111" stroke-width="1.3"/>
<line x1="462.90" y1="85.48" x2="472.10" y2="85.48" stroke="#111" stroke-width="1.3"/>
<rect x="458.75" y="101.95" width="17.50" height="48.55" fill="#6bb046"/>
<line x1="493.25" y1="60.79" x2="493.25" y2="73.55" stroke="#111" stroke-width="1.3"/>
<line x1="488.65" y1="60.79" x2="497.85" y2="60.79" stroke="#111" stroke-width="1.3"/>
<rect x="484.50" y="73.05" width="17.50" height="77.45" fill="#552566"/>
<line x1="425.50" y1="150.50" x2="506.75" y2="150.50" stroke="#111" stroke-width="1.5"/>
<line x1="441.75" y1="150.50" x2="441.75" y2="153.50" stroke="#111" stroke-width="1.5"/>
<line x1="467.50" y1="150.50" x2="467.50" y2="153.50" stroke="#111" stroke-width="1.5"/>
<line x1="493.25" y1="150.50" x2="493.25" y2="153.50" stroke="#111" stroke-width="1.5"/>
<text x="68.00" y="193.90" font-size="9.3" font-weight="bold" fill="#000" textLength="19.00" lengthAdjust="spacingAndGlyphs">BAX</text>
<text x="30.50" y="200.80" font-size="7.6" text-anchor="start" font-weight="normal" fill="#151515"  stroke="#151515" stroke-width="0.12">[%]</text>
<line x1="38.75" y1="207.50" x2="38.75" y2="312.50" stroke="#111" stroke-width="1.5"/>
<line x1="35.65" y1="210.43" x2="38.75" y2="210.43" stroke="#111" stroke-width="1.5"/>
<text x="32.45" y="213.38" font-size="8.3" text-anchor="end" font-weight="normal" fill="#151515"  stroke="#151515" stroke-width="0.12">80</text>
<line x1="35.65" y1="235.76" x2="38.75" y2="235.76" stroke="#111" stroke-width="1.5"/>
<text x="32.45" y="238.71" font-size="8.3" text-anchor="end" font-weight="normal" fill="#151515"  stroke="#151515" stroke-width="0.12">60</text>
<line x1="35.65" y1="261.09" x2="38.75" y2="261.09" stroke="#111" stroke-width="1.5"/>
<text x="32.45" y="264.04" font-size="8.3" text-anchor="end" font-weight="normal" fill="#151515"  stroke="#151515" stroke-width="0.12">40</text>
<line x1="35.65" y1="286.42" x2="38.75" y2="286.42" stroke="#111" stroke-width="1.5"/>
<text x="32.45" y="289.37" font-size="8.3" text-anchor="end" font-weight="normal" fill="#151515"  stroke="#151515" stroke-width="0.12">20</text>
<line x1="35.65" y1="311.75" x2="38.75" y2="311.75" stroke="#111" stroke-width="1.5"/>
<text x="32.45" y="314.70" font-size="8.3" text-anchor="end" font-weight="normal" fill="#151515"  stroke="#151515" stroke-width="0.12">0</text>
<line x1="51.75" y1="232.47" x2="51.75" y2="238.79" stroke="#111" stroke-width="1.3"/>
<line x1="47.15" y1="232.47" x2="56.35" y2="232.47" stroke="#111" stroke-width="1.3"/>
<rect x="43.00" y="238.29" width="17.50" height="73.46" fill="#2e4b80"/>
<line x1="77.50" y1="232.47" x2="77.50" y2="238.79" stroke="#111" stroke-width="1.3"/>
<line x1="72.90" y1="232.47" x2="82.10" y2="232.47" stroke="#111" stroke-width="1.3"/>
<rect x="68.75" y="238.29" width="17.50" height="73.46" fill="#6bb046"/>
<line x1="103.12" y1="230.06" x2="103.12" y2="235.50" stroke="#111" stroke-width="1.3"/>
<line x1="98.53" y1="230.06" x2="107.72" y2="230.06" stroke="#111" stroke-width="1.3"/>
<rect x="94.50" y="235.00" width="17.25" height="76.75" fill="#552566"/>
<line x1="35.75" y1="311.75" x2="115.75" y2="311.75" stroke="#111" stroke-width="1.5"/>
<line x1="51.75" y1="311.75" x2="51.75" y2="314.75" stroke="#111" stroke-width="1.5"/>
<line x1="77.50" y1="311.75" x2="77.50" y2="314.75" stroke="#111" stroke-width="1.5"/>
<line x1="103.00" y1="311.75" x2="103.00" y2="314.75" stroke="#111" stroke-width="1.5"/>
<text x="183.25" y="194.10" font-size="9.3" font-weight="bold" fill="#000" textLength="46.00" lengthAdjust="spacingAndGlyphs">BIM/Bcl-2</text>
<line x1="167.00" y1="207.50" x2="167.00" y2="312.50" stroke="#111" stroke-width="1.5"/>
<line x1="163.90" y1="210.71" x2="167.00" y2="210.71" stroke="#111" stroke-width="1.5"/>
<text x="160.70" y="213.66" font-size="8.3" text-anchor="end" font-weight="normal" fill="#151515"  stroke="#151515" stroke-width="0.12">8</text>
<line x1="163.90" y1="235.97" x2="167.00" y2="235.97" stroke="#111" stroke-width="1.5"/>
<text x="160.70" y="238.92" font-size="8.3" text-anchor="end" font-weight="normal" fill="#151515"  stroke="#151515" stroke-width="0.12">6</text>
<line x1="163.90" y1="261.23" x2="167.00" y2="261.23" stroke="#111" stroke-width="1.5"/>
<text x="160.70" y="264.18" font-size="8.3" text-anchor="end" font-weight="normal" fill="#151515"  stroke="#151515" stroke-width="0.12">4</text>
<line x1="163.90" y1="286.49" x2="167.00" y2="286.49" stroke="#111" stroke-width="1.5"/>
<text x="160.70" y="289.44" font-size="8.3" text-anchor="end" font-weight="normal" fill="#151515"  stroke="#151515" stroke-width="0.12">2</text>
<line x1="163.90" y1="311.75" x2="167.00" y2="311.75" stroke="#111" stroke-width="1.5"/>
<text x="160.70" y="314.70" font-size="8.3" text-anchor="end" font-weight="normal" fill="#151515"  stroke="#151515" stroke-width="0.12">0</text>
<line x1="186.62" y1="278.41" x2="186.62" y2="283.58" stroke="#111" stroke-width="1.3"/>
<line x1="180.53" y1="278.41" x2="192.72" y2="278.41" stroke="#111" stroke-width="1.3"/>
<rect x="173.75" y="283.08" width="25.75" height="28.67" fill="#2e4b80"/>
<line x1="226.00" y1="218.04" x2="226.00" y2="225.10" stroke="#111" stroke-width="1.3"/>
<line x1="219.90" y1="218.04" x2="232.10" y2="218.04" stroke="#111" stroke-width="1.3"/>
<rect x="213.25" y="224.60" width="25.50" height="87.15" fill="#552566"/>
<line x1="164.30" y1="311.75" x2="245.50" y2="311.75" stroke="#111" stroke-width="1.5"/>
<line x1="186.50" y1="311.75" x2="186.50" y2="314.75" stroke="#111" stroke-width="1.5"/>
<line x1="225.90" y1="311.75" x2="225.90" y2="314.75" stroke="#111" stroke-width="1.5"/>
<line x1="188.00" y1="215.40" x2="226.25" y2="215.40" stroke="#111" stroke-width="1.2"/>
<text x="207.30" y="214.40" font-size="8.6" text-anchor="middle" font-weight="bold" fill="#111" >****</text>
<text transform="translate(150.6,260.1) rotate(-90)" font-size="8.2" text-anchor="middle" fill="#151515" stroke="#151515" stroke-width="0.1" textLength="94" lengthAdjust="spacingAndGlyphs">Expression ratio of BIM to Bcl-2</text>
<text x="316.25" y="194.30" font-size="9.3" font-weight="bold" fill="#000" textLength="46.75" lengthAdjust="spacingAndGlyphs">BAX/Bcl-2</text>
<line x1="300.00" y1="207.50" x2="300.00" y2="312.50" stroke="#111" stroke-width="1.5"/>
<line x1="296.90" y1="211.25" x2="300.00" y2="211.25" stroke="#111" stroke-width="1.5"/>
<text x="293.70" y="214.20" font-size="8.3" text-anchor="end" font-weight="normal" fill="#151515"  stroke="#151515" stroke-width="0.12">10</text>
<line x1="296.90" y1="231.35" x2="300.00" y2="231.35" stroke="#111" stroke-width="1.5"/>
<text x="293.70" y="234.30" font-size="8.3" text-anchor="end" font-weight="normal" fill="#151515"  stroke="#151515" stroke-width="0.12">8</text>
<line x1="296.90" y1="251.45" x2="300.00" y2="251.45" stroke="#111" stroke-width="1.5"/>
<text x="293.70" y="254.40" font-size="8.3" text-anchor="end" font-weight="normal" fill="#151515"  stroke="#151515" stroke-width="0.12">6</text>
<line x1="296.90" y1="271.55" x2="300.00" y2="271.55" stroke="#111" stroke-width="1.5"/>
<text x="293.70" y="274.50" font-size="8.3" text-anchor="end" font-weight="normal" fill="#151515"  stroke="#151515" stroke-width="0.12">4</text>
<line x1="296.90" y1="291.65" x2="300.00" y2="291.65" stroke="#111" stroke-width="1.5"/>
<text x="293.70" y="294.60" font-size="8.3" text-anchor="end" font-weight="normal" fill="#151515"  stroke="#151515" stroke-width="0.12">2</text>
<line x1="296.90" y1="311.75" x2="300.00" y2="311.75" stroke="#111" stroke-width="1.5"/>
<text x="293.70" y="314.70" font-size="8.3" text-anchor="end" font-weight="normal" fill="#151515"  stroke="#151515" stroke-width="0.12">0</text>
<line x1="320.00" y1="278.28" x2="320.00" y2="281.80" stroke="#111" stroke-width="1.3"/>
<line x1="313.90" y1="278.28" x2="326.10" y2="278.28" stroke="#111" stroke-width="1.3"/>
<rect x="307.00" y="281.30" width="26.00" height="30.45" fill="#2e4b80"/>
<line x1="359.00" y1="225.62" x2="359.00" y2="231.85" stroke="#111" stroke-width="1.3"/>
<line x1="352.90" y1="225.62" x2="365.10" y2="225.62" stroke="#111" stroke-width="1.3"/>
<rect x="346.25" y="231.35" width="25.50" height="80.40" fill="#552566"/>
<line x1="297.40" y1="311.75" x2="378.75" y2="311.75" stroke="#111" stroke-width="1.5"/>
<line x1="320.00" y1="311.75" x2="320.00" y2="314.75" stroke="#111" stroke-width="1.5"/>
<line x1="358.90" y1="311.75" x2="358.90" y2="314.75" stroke="#111" stroke-width="1.5"/>
<line x1="320.00" y1="214.80" x2="359.50" y2="214.80" stroke="#111" stroke-width="1.2"/>
<text x="339.50" y="214.20" font-size="8.6" text-anchor="middle" font-weight="bold" fill="#111" >****</text>
<text transform="translate(279.8,260.2) rotate(-90)" font-size="8.2" text-anchor="middle" fill="#151515" stroke="#151515" stroke-width="0.1" textLength="95" lengthAdjust="spacingAndGlyphs">Expression ratio of BAX to Bcl-2</text>
<rect x="381.50" y="241.20" width="7.20" height="6.00" fill="#2e4b80"/>
<text x="392.20" y="246.90" font-size="7.6" text-anchor="start" font-weight="normal" fill="#151515"  stroke="#151515" stroke-width="0.12">BALB/c<tspan class="ar">→</tspan>B6-WT</text>
<rect x="381.50" y="256.70" width="7.20" height="6.00" fill="#6bb046"/>
<text x="392.20" y="262.40" font-size="7.6" text-anchor="start" font-weight="normal" fill="#151515"  stroke="#151515" stroke-width="0.12">BALB/c<tspan class="ar">→</tspan>cIAP1<tspan class="sup" dy="-2.6">-/-</tspan></text>
<rect x="381.50" y="272.20" width="7.20" height="6.00" fill="#552566"/>
<text x="392.20" y="277.90" font-size="7.6" text-anchor="start" font-weight="normal" fill="#151515"  stroke="#151515" stroke-width="0.12">BALB/c<tspan class="ar">→</tspan>XIAP<tspan class="sup" dy="-2.6">-/-</tspan></text>
<text x="105.75" y="358.30" font-size="9.3" font-weight="bold" fill="#000" textLength="19.75" lengthAdjust="spacingAndGlyphs">LC-3</text>
<text x="31.20" y="370.00" font-size="7.6" text-anchor="start" font-weight="normal" fill="#151515"  stroke="#151515" stroke-width="0.12">[%]</text>
<line x1="39.50" y1="376.90" x2="39.50" y2="471.15" stroke="#111" stroke-width="1.5"/>
<line x1="36.40" y1="379.90" x2="39.50" y2="379.90" stroke="#111" stroke-width="1.5"/>
<text x="33.20" y="382.85" font-size="8.3" text-anchor="end" font-weight="normal" fill="#151515"  stroke="#151515" stroke-width="0.12">100</text>
<line x1="36.40" y1="398.00" x2="39.50" y2="398.00" stroke="#111" stroke-width="1.5"/>
<text x="33.20" y="400.95" font-size="8.3" text-anchor="end" font-weight="normal" fill="#151515"  stroke="#151515" stroke-width="0.12">80</text>
<line x1="36.40" y1="416.10" x2="39.50" y2="416.10" stroke="#111" stroke-width="1.5"/>
<text x="33.20" y="419.05" font-size="8.3" text-anchor="end" font-weight="normal" fill="#151515"  stroke="#151515" stroke-width="0.12">60</text>
<line x1="36.40" y1="434.20" x2="39.50" y2="434.20" stroke="#111" stroke-width="1.5"/>
<text x="33.20" y="437.15" font-size="8.3" text-anchor="end" font-weight="normal" fill="#151515"  stroke="#151515" stroke-width="0.12">40</text>
<line x1="36.40" y1="452.30" x2="39.50" y2="452.30" stroke="#111" stroke-width="1.5"/>
<text x="33.20" y="455.25" font-size="8.3" text-anchor="end" font-weight="normal" fill="#151515"  stroke="#151515" stroke-width="0.12">20</text>
<line x1="36.40" y1="470.40" x2="39.50" y2="470.40" stroke="#111" stroke-width="1.5"/>
<text x="33.20" y="473.35" font-size="8.3" text-anchor="end" font-weight="normal" fill="#151515"  stroke="#151515" stroke-width="0.12">0</text>
<line x1="35.80" y1="470.40" x2="191.70" y2="470.40" stroke="#111" stroke-width="1.5"/>
<line x1="52.00" y1="470.40" x2="52.00" y2="473.40" stroke="#111" stroke-width="1.5"/>
<line x1="77.50" y1="470.40" x2="77.50" y2="473.40" stroke="#111" stroke-width="1.5"/>
<line x1="102.80" y1="470.40" x2="102.80" y2="473.40" stroke="#111" stroke-width="1.5"/>
<line x1="127.90" y1="470.40" x2="127.90" y2="473.40" stroke="#111" stroke-width="1.5"/>
<line x1="153.60" y1="470.40" x2="153.60" y2="473.40" stroke="#111" stroke-width="1.5"/>
<line x1="178.90" y1="470.40" x2="178.90" y2="473.40" stroke="#111" stroke-width="1.5"/>
<line x1="55.00" y1="477.00" x2="101.00" y2="477.00" stroke="#111" stroke-width="1.5"/>
<line x1="131.60" y1="477.00" x2="177.80" y2="477.00" stroke="#111" stroke-width="1.5"/>
<line x1="55.00" y1="384.30" x2="80.00" y2="384.30" stroke="#111" stroke-width="1.2"/>
<text x="67.50" y="383.80" font-size="8.6" text-anchor="middle" font-weight="bold" fill="#111" >*</text>
<line x1="80.00" y1="393.60" x2="105.00" y2="393.60" stroke="#111" stroke-width="1.2"/>
<text x="92.50" y="393.30" font-size="8.6" text-anchor="middle" font-weight="bold" fill="#111" >*</text>
<line x1="158.10" y1="393.20" x2="183.50" y2="393.20" stroke="#111" stroke-width="1.2"/>
<text x="170.60" y="392.80" font-size="8.6" text-anchor="middle" font-weight="bold" fill="#111" >*</text>
<circle cx="52.20" cy="398.00" r="1.9" fill="#9d1035"/>
<circle cx="52.20" cy="404.90" r="1.9" fill="#9d1035"/>
<circle cx="52.20" cy="431.80" r="1.9" fill="#9d1035"/>
<circle cx="52.20" cy="446.20" r="1.9" fill="#9d1035"/>
<line x1="43.50" y1="420.00" x2="60.90" y2="420.00" stroke="#111" stroke-width="1.15"/>
<line x1="52.20" y1="408.90" x2="52.20" y2="431.50" stroke="#111" stroke-width="1.15"/>
<line x1="47.95" y1="408.90" x2="56.45" y2="408.90" stroke="#111" stroke-width="1.15"/>
<line x1="47.95" y1="431.50" x2="56.45" y2="431.50" stroke="#111" stroke-width="1.15"/>
<rect x="75.85" y="415.85" width="3.70" height="3.70" fill="#2e4b80"/>
<rect x="79.25" y="418.15" width="3.70" height="3.70" fill="#2e4b80"/>
<rect x="72.65" y="423.05" width="3.70" height="3.70" fill="#2e4b80"/>
<rect x="81.25" y="425.35" width="3.70" height="3.70" fill="#2e4b80"/>
<rect x="67.35" y="428.95" width="3.70" height="3.70" fill="#2e4b80"/>
<rect x="75.85" y="429.95" width="3.70" height="3.70" fill="#2e4b80"/>
<rect x="71.25" y="432.75" width="3.70" height="3.70" fill="#2e4b80"/>
<rect x="80.75" y="434.75" width="3.70" height="3.70" fill="#2e4b80"/>
<rect x="68.95" y="441.25" width="3.70" height="3.70" fill="#2e4b80"/>
<rect x="82.35" y="441.95" width="3.70" height="3.70" fill="#2e4b80"/>
<rect x="73.35" y="444.35" width="3.70" height="3.70" fill="#2e4b80"/>
<rect x="77.35" y="445.35" width="3.70" height="3.70" fill="#2e4b80"/>
<rect x="78.95" y="454.35" width="3.70" height="3.70" fill="#2e4b80"/>
<rect x="72.65" y="455.85" width="3.70" height="3.70" fill="#2e4b80"/>
<rect x="76.15" y="436.65" width="3.70" height="3.70" fill="#2e4b80"/>
<line x1="68.90" y1="436.90" x2="86.10" y2="436.90" stroke="#111" stroke-width="1.15"/>
<line x1="77.50" y1="434.40" x2="77.50" y2="439.80" stroke="#111" stroke-width="1.15"/>
<line x1="74.00" y1="434.40" x2="81.00" y2="434.40" stroke="#111" stroke-width="1.15"/>
<line x1="74.00" y1="439.80" x2="81.00" y2="439.80" stroke="#111" stroke-width="1.15"/>
<path d="M102.90 436.30L105.10 440.26L100.70 440.26Z" fill="#1f1b33"/>
<path d="M99.50 442.40L101.70 446.36L97.30 446.36Z" fill="#1f1b33"/>
<path d="M105.70 445.50L107.90 449.46L103.50 449.46Z" fill="#1f1b33"/>
<path d="M97.20 453.20L99.40 457.16L95.00 457.16Z" fill="#1f1b33"/>
<path d="M102.90 455.50L105.10 459.46L100.70 459.46Z" fill="#1f1b33"/>
<path d="M108.50 454.30L110.70 458.26L106.30 458.26Z" fill="#1f1b33"/>
<line x1="94.25" y1="450.00" x2="111.55" y2="450.00" stroke="#111" stroke-width="1.15"/>
<line x1="102.90" y1="447.20" x2="102.90" y2="452.80" stroke="#111" stroke-width="1.15"/>
<line x1="99.40" y1="447.20" x2="106.40" y2="447.20" stroke="#111" stroke-width="1.15"/>
<line x1="99.40" y1="452.80" x2="106.40" y2="452.80" stroke="#111" stroke-width="1.15"/>
<circle cx="125.20" cy="411.60" r="1.9" fill="#9d1035"/>
<circle cx="131.30" cy="416.00" r="1.9" fill="#9d1035"/>
<circle cx="131.30" cy="449.70" r="1.9" fill="#9d1035"/>
<circle cx="125.20" cy="454.50" r="1.9" fill="#9d1035"/>
<line x1="119.55" y1="432.70" x2="136.85" y2="432.70" stroke="#111" stroke-width="1.15"/>
<line x1="128.20" y1="421.70" x2="128.20" y2="443.60" stroke="#111" stroke-width="1.15"/>
<line x1="124.10" y1="421.70" x2="132.30" y2="421.70" stroke="#111" stroke-width="1.15"/>
<line x1="124.10" y1="443.60" x2="132.30" y2="443.60" stroke="#111" stroke-width="1.15"/>
<rect x="151.75" y="398.55" width="3.70" height="3.70" fill="#2e4b80"/>
<rect x="148.85" y="409.25" width="3.70" height="3.70" fill="#2e4b80"/>
<rect x="157.95" y="410.25" width="3.70" height="3.70" fill="#2e4b80"/>
<rect x="154.85" y="415.45" width="3.70" height="3.70" fill="#2e4b80"/>
<rect x="145.35" y="419.65" width="3.70" height="3.70" fill="#2e4b80"/>
<rect x="148.85" y="422.75" width="3.70" height="3.70" fill="#2e4b80"/>
<rect x="155.25" y="424.85" width="3.70" height="3.70" fill="#2e4b80"/>
<rect x="145.05" y="436.25" width="3.70" height="3.70" fill="#2e4b80"/>
<rect x="158.35" y="435.25" width="3.70" height="3.70" fill="#2e4b80"/>
<rect x="153.95" y="438.35" width="3.70" height="3.70" fill="#2e4b80"/>
<rect x="149.65" y="440.55" width="3.70" height="3.70" fill="#2e4b80"/>
<rect x="151.45" y="447.85" width="3.70" height="3.70" fill="#2e4b80"/>
<rect x="146.25" y="450.75" width="3.70" height="3.70" fill="#2e4b80"/>
<rect x="157.15" y="453.85" width="3.70" height="3.70" fill="#2e4b80"/>
<rect x="151.75" y="455.65" width="3.70" height="3.70" fill="#2e4b80"/>
<line x1="145.20" y1="432.40" x2="162.00" y2="432.40" stroke="#111" stroke-width="1.15"/>
<line x1="153.60" y1="429.40" x2="153.60" y2="435.30" stroke="#111" stroke-width="1.15"/>
<line x1="150.10" y1="429.40" x2="157.10" y2="429.40" stroke="#111" stroke-width="1.15"/>
<line x1="150.10" y1="435.30" x2="157.10" y2="435.30" stroke="#111" stroke-width="1.15"/>
<path d="M184.40 435.90L186.60 439.86L182.20 439.86Z" fill="#1f1b33"/>
<path d="M173.70 438.80L175.90 442.76L171.50 442.76Z" fill="#1f1b33"/>
<path d="M179.20 439.70L181.40 443.66L177.00 443.66Z" fill="#1f1b33"/>
<path d="M173.70 447.50L175.90 451.46L171.50 451.46Z" fill="#1f1b33"/>
<path d="M184.40 448.70L186.60 452.66L182.20 452.66Z" fill="#1f1b33"/>
<path d="M179.20 450.40L181.40 454.36L177.00 454.36Z" fill="#1f1b33"/>
<line x1="170.65" y1="445.70" x2="187.35" y2="445.70" stroke="#111" stroke-width="1.15"/>
<line x1="179.00" y1="443.60" x2="179.00" y2="448.00" stroke="#111" stroke-width="1.15"/>
<line x1="175.50" y1="443.60" x2="182.50" y2="443.60" stroke="#111" stroke-width="1.15"/>
<line x1="175.50" y1="448.00" x2="182.50" y2="448.00" stroke="#111" stroke-width="1.15"/>
<text x="52.90" y="488.50" font-size="7.85" text-anchor="start" font-weight="normal" fill="#151515"  stroke="#151515" stroke-width="0.12">Small intestine</text>
<text x="129.70" y="488.50" font-size="7.85" text-anchor="start" font-weight="normal" fill="#151515"  stroke="#151515" stroke-width="0.12">Large intestine</text>
<circle cx="90.50" cy="498.20" r="1.8" fill="#9d1035"/>
<text x="96.10" y="500.80" font-size="7.6" text-anchor="start" font-weight="normal" fill="#151515"  stroke="#151515" stroke-width="0.12">B6<tspan class="ar">→</tspan>B6</text>
<rect x="88.85" y="508.85" width="3.50" height="3.50" fill="#2e4b80"/>
<text x="96.10" y="512.90" font-size="7.6" text-anchor="start" font-weight="normal" fill="#151515"  stroke="#151515" stroke-width="0.12">BALB/c<tspan class="ar">→</tspan>B6-WT</text>
<path d="M90.60 520.20L92.60 523.80L88.60 523.80Z" fill="#1f1b33"/>
<text x="96.10" y="524.60" font-size="7.6" text-anchor="start" font-weight="normal" fill="#151515"  stroke="#151515" stroke-width="0.12">BALB/c<tspan class="ar">→</tspan>XIAP1<tspan class="sup" dy="-2.6">-/-</tspan></text>
<text x="302.50" y="358.60" font-size="9.3" font-weight="bold" fill="#000" textLength="26.25" lengthAdjust="spacingAndGlyphs">Rho A</text>
<text x="231.20" y="370.00" font-size="7.6" text-anchor="start" font-weight="normal" fill="#151515"  stroke="#151515" stroke-width="0.12">[%]</text>
<line x1="239.80" y1="377.60" x2="239.80" y2="471.15" stroke="#111" stroke-width="1.5"/>
<line x1="236.70" y1="380.40" x2="239.80" y2="380.40" stroke="#111" stroke-width="1.5"/>
<text x="233.50" y="383.35" font-size="8.3" text-anchor="end" font-weight="normal" fill="#151515"  stroke="#151515" stroke-width="0.12">100</text>
<line x1="236.70" y1="410.40" x2="239.80" y2="410.40" stroke="#111" stroke-width="1.5"/>
<text x="233.50" y="413.35" font-size="8.3" text-anchor="end" font-weight="normal" fill="#151515"  stroke="#151515" stroke-width="0.12">90</text>
<line x1="236.70" y1="440.40" x2="239.80" y2="440.40" stroke="#111" stroke-width="1.5"/>
<text x="233.50" y="443.35" font-size="8.3" text-anchor="end" font-weight="normal" fill="#151515"  stroke="#151515" stroke-width="0.12">80</text>
<line x1="236.70" y1="470.40" x2="239.80" y2="470.40" stroke="#111" stroke-width="1.5"/>
<text x="233.50" y="473.35" font-size="8.3" text-anchor="end" font-weight="normal" fill="#151515"  stroke="#151515" stroke-width="0.12">70</text>
<line x1="237.00" y1="470.40" x2="392.40" y2="470.40" stroke="#111" stroke-width="1.5"/>
<line x1="248.30" y1="470.40" x2="248.30" y2="473.40" stroke="#111" stroke-width="1.5"/>
<line x1="265.20" y1="470.40" x2="265.20" y2="473.40" stroke="#111" stroke-width="1.5"/>
<line x1="281.90" y1="470.40" x2="281.90" y2="473.40" stroke="#111" stroke-width="1.5"/>
<line x1="298.70" y1="470.40" x2="298.70" y2="473.40" stroke="#111" stroke-width="1.5"/>
<line x1="315.60" y1="470.40" x2="315.60" y2="473.40" stroke="#111" stroke-width="1.5"/>
<line x1="332.30" y1="470.40" x2="332.30" y2="473.40" stroke="#111" stroke-width="1.5"/>
<line x1="349.10" y1="470.40" x2="349.10" y2="473.40" stroke="#111" stroke-width="1.5"/>
<line x1="365.80" y1="470.40" x2="365.80" y2="473.40" stroke="#111" stroke-width="1.5"/>
<line x1="382.60" y1="470.40" x2="382.60" y2="473.40" stroke="#111" stroke-width="1.5"/>
<line x1="252.00" y1="477.00" x2="301.20" y2="477.00" stroke="#111" stroke-width="1.5"/>
<line x1="334.00" y1="477.00" x2="385.00" y2="477.00" stroke="#111" stroke-width="1.5"/>
<line x1="265.50" y1="372.80" x2="296.00" y2="372.80" stroke="#111" stroke-width="1.2"/>
<text x="281.00" y="373.10" font-size="8.6" text-anchor="middle" font-weight="bold" fill="#111" >**</text>
<circle cx="244.60" cy="380.50" r="1.8" fill="#8a0f30"/>
<circle cx="251.70" cy="380.50" r="1.8" fill="#8a0f30"/>
<circle cx="246.40" cy="381.20" r="1.8" fill="#8a0f30"/>
<circle cx="250.00" cy="381.20" r="1.8" fill="#8a0f30"/>
<circle cx="247.60" cy="382.00" r="1.8" fill="#8a0f30"/>
<circle cx="249.00" cy="382.00" r="1.8" fill="#8a0f30"/>
<line x1="242.40" y1="381.20" x2="254.00" y2="381.20" stroke="#3a0814" stroke-width="1.3"/>
<rect x="260.40" y="379.90" width="9.10" height="6.60" fill="#2e4b80"/>
<rect x="260.45" y="379.65" width="3.70" height="3.70" fill="#2e4b80"/>
<rect x="265.65" y="379.65" width="3.70" height="3.70" fill="#2e4b80"/>
<rect x="260.35" y="383.35" width="3.70" height="3.70" fill="#2e4b80"/>
<rect x="265.75" y="383.35" width="3.70" height="3.70" fill="#2e4b80"/>
<rect x="263.05" y="382.15" width="3.70" height="3.70" fill="#2e4b80"/>
<rect x="260.35" y="391.05" width="3.70" height="3.70" fill="#2e4b80"/>
<rect x="265.75" y="392.45" width="3.70" height="3.70" fill="#2e4b80"/>
<rect x="263.05" y="395.15" width="3.70" height="3.70" fill="#2e4b80"/>
<line x1="259.00" y1="386.20" x2="270.50" y2="386.20" stroke="#111" stroke-width="1.3"/>
<path d="M260.6 385.4L269 385.4L264.8 388.6Z" fill="#111"/>
<path d="M278.90 378.90L281.40 383.40L276.40 383.40Z" fill="#552566"/>
<path d="M281.60 379.50L284.10 384.00L279.10 384.00Z" fill="#552566"/>
<path d="M284.60 379.10L287.10 383.60L282.10 383.60Z" fill="#552566"/>
<path d="M280.00 387.90L282.50 392.40L277.50 392.40Z" fill="#552566"/>
<path d="M283.50 387.30L286.00 391.80L281.00 391.80Z" fill="#552566"/>
<path d="M278.90 420.20L281.40 424.70L276.40 424.70Z" fill="#552566"/>
<path d="M284.60 418.70L287.10 423.20L282.10 423.20Z" fill="#552566"/>
<line x1="276.20" y1="395.00" x2="287.00" y2="395.00" stroke="#111" stroke-width="1.15"/>
<line x1="281.60" y1="390.40" x2="281.60" y2="401.20" stroke="#111" stroke-width="1.15"/>
<line x1="278.50" y1="390.40" x2="284.70" y2="390.40" stroke="#111" stroke-width="1.15"/>
<line x1="278.50" y1="401.20" x2="284.70" y2="401.20" stroke="#111" stroke-width="1.15"/>
<path d="M298.50 385.05L300.75 387.30L298.50 389.55L296.25 387.30Z" fill="#6bb046"/>
<path d="M296.60 393.55L298.85 395.80L296.60 398.05L294.35 395.80Z" fill="#6bb046"/>
<path d="M299.90 393.55L302.15 395.80L299.90 398.05L297.65 395.80Z" fill="#6bb046"/>
<path d="M298.50 427.35L300.75 429.60L298.50 431.85L296.25 429.60Z" fill="#6bb046"/>
<line x1="293.00" y1="401.50" x2="304.00" y2="401.50" stroke="#111" stroke-width="1.15"/>
<line x1="298.50" y1="394.20" x2="298.50" y2="408.80" stroke="#111" stroke-width="1.15"/>
<line x1="295.60" y1="394.20" x2="301.40" y2="394.20" stroke="#111" stroke-width="1.15"/>
<line x1="295.60" y1="408.80" x2="301.40" y2="408.80" stroke="#111" stroke-width="1.15"/>
<circle cx="329.60" cy="382.30" r="2.1" fill="#9d1035"/>
<circle cx="335.10" cy="380.90" r="2.1" fill="#9d1035"/>
<circle cx="332.10" cy="400.50" r="2.1" fill="#9d1035"/>
<circle cx="332.10" cy="413.40" r="2.1" fill="#9d1035"/>
<line x1="326.70" y1="394.40" x2="337.70" y2="394.40" stroke="#111" stroke-width="1.15"/>
<line x1="332.20" y1="386.60" x2="332.20" y2="401.30" stroke="#111" stroke-width="1.15"/>
<line x1="329.30" y1="386.60" x2="335.10" y2="386.60" stroke="#111" stroke-width="1.15"/>
<line x1="329.30" y1="401.30" x2="335.10" y2="401.30" stroke="#111" stroke-width="1.15"/>
<path d="M344.3 383.6H354.2V388.6L351.4 392.4H347.2L344.3 388.6Z" fill="#2e4b80"/>
<rect x="344.25" y="379.15" width="3.70" height="3.70" fill="#2e4b80"/>
<rect x="350.05" y="379.15" width="3.70" height="3.70" fill="#2e4b80"/>
<rect x="347.45" y="401.35" width="3.70" height="3.70" fill="#2e4b80"/>
<rect x="347.05" y="412.85" width="3.70" height="3.70" fill="#2e4b80"/>
<rect x="347.05" y="421.15" width="3.70" height="3.70" fill="#2e4b80"/>
<rect x="347.05" y="436.65" width="3.70" height="3.70" fill="#2e4b80"/>
<line x1="343.70" y1="396.10" x2="354.50" y2="396.10" stroke="#111" stroke-width="1.15"/>
<line x1="349.10" y1="392.20" x2="349.10" y2="400.00" stroke="#111" stroke-width="1.15"/>
<line x1="346.40" y1="392.20" x2="351.80" y2="392.20" stroke="#111" stroke-width="1.15"/>
<line x1="346.40" y1="400.00" x2="351.80" y2="400.00" stroke="#111" stroke-width="1.15"/>
<path d="M363.10 379.20L365.60 383.70L360.60 383.70Z" fill="#552566"/>
<path d="M368.00 378.80L370.50 383.30L365.50 383.30Z" fill="#552566"/>
<path d="M365.40 380.10L367.90 384.60L362.90 384.60Z" fill="#552566"/>
<path d="M361.40 389.90L363.90 394.40L358.90 394.40Z" fill="#552566"/>
<path d="M368.60 387.10L371.10 391.60L366.10 391.60Z" fill="#552566"/>
<path d="M362.80 393.30L365.30 397.80L360.30 397.80Z" fill="#552566"/>
<path d="M368.40 396.80L370.90 401.30L365.90 401.30Z" fill="#552566"/>
<path d="M365.40 403.40L367.90 407.90L362.90 407.90Z" fill="#552566"/>
<line x1="359.10" y1="391.00" x2="371.30" y2="391.00" stroke="#111" stroke-width="1.15"/>
<line x1="365.20" y1="388.40" x2="365.20" y2="393.70" stroke="#111" stroke-width="1.15"/>
<line x1="362.40" y1="388.40" x2="368.00" y2="388.40" stroke="#111" stroke-width="1.15"/>
<line x1="362.40" y1="393.70" x2="368.00" y2="393.70" stroke="#111" stroke-width="1.15"/>
<path d="M379.40 388.60L381.30 390.50L379.40 392.40L377.50 390.50Z" fill="#4f8a35"/>
<path d="M381.60 388.40L383.50 390.30L381.60 392.20L379.70 390.30Z" fill="#4f8a35"/>
<path d="M383.80 388.70L385.70 390.60L383.80 392.50L381.90 390.60Z" fill="#4f8a35"/>
<path d="M385.80 388.40L387.70 390.30L385.80 392.20L383.90 390.30Z" fill="#4f8a35"/>
<path d="M379.70 393.10L381.60 395.00L379.70 396.90L377.80 395.00Z" fill="#4f8a35"/>
<line x1="377.00" y1="390.50" x2="387.80" y2="390.50" stroke="#1c2a12" stroke-width="1.5"/>
<text x="252.70" y="488.30" font-size="7.85" text-anchor="start" font-weight="normal" fill="#151515"  stroke="#151515" stroke-width="0.12">Small intestine</text>
<text x="335.00" y="488.30" font-size="7.85" text-anchor="start" font-weight="normal" fill="#151515"  stroke="#151515" stroke-width="0.12">Large intestine</text>
<circle cx="272.10" cy="498.20" r="1.8" fill="#9d1035"/>
<text x="277.80" y="500.60" font-size="7.6" text-anchor="start" font-weight="normal" fill="#151515"  stroke="#151515" stroke-width="0.12">B6<tspan class="ar">→</tspan>B6</text>
<rect x="270.35" y="508.45" width="3.50" height="3.50" fill="#2e4b80"/>
<text x="277.80" y="512.60" font-size="7.6" text-anchor="start" font-weight="normal" fill="#151515"  stroke="#151515" stroke-width="0.12">BALB/c<tspan class="ar">→</tspan>B6-WT</text>
<path d="M272.10 520.40L274.10 524.00L270.10 524.00Z" fill="#1f1b33"/>
<text x="277.80" y="524.70" font-size="7.6" text-anchor="start" font-weight="normal" fill="#151515"  stroke="#151515" stroke-width="0.12">BALB/c<tspan class="ar">→</tspan>XIAP<tspan class="sup" dy="-2.6">-/-</tspan></text>
<path d="M272.10 532.20L274.10 534.20L272.10 536.20L270.10 534.20Z" fill="#6bb046"/>
<text x="277.80" y="536.50" font-size="7.6" text-anchor="start" font-weight="normal" fill="#151515"  stroke="#151515" stroke-width="0.12">BALB/c<tspan class="ar">→</tspan>cIAP1<tspan class="sup" dy="-2.6">-/-</tspan></text>
<path d="M0 0H520V549H0Z M1.3 1.2V547.5H518.6V1.2Z" fill="#000" fill-rule="evenodd"/>
</svg>
</body></html>
